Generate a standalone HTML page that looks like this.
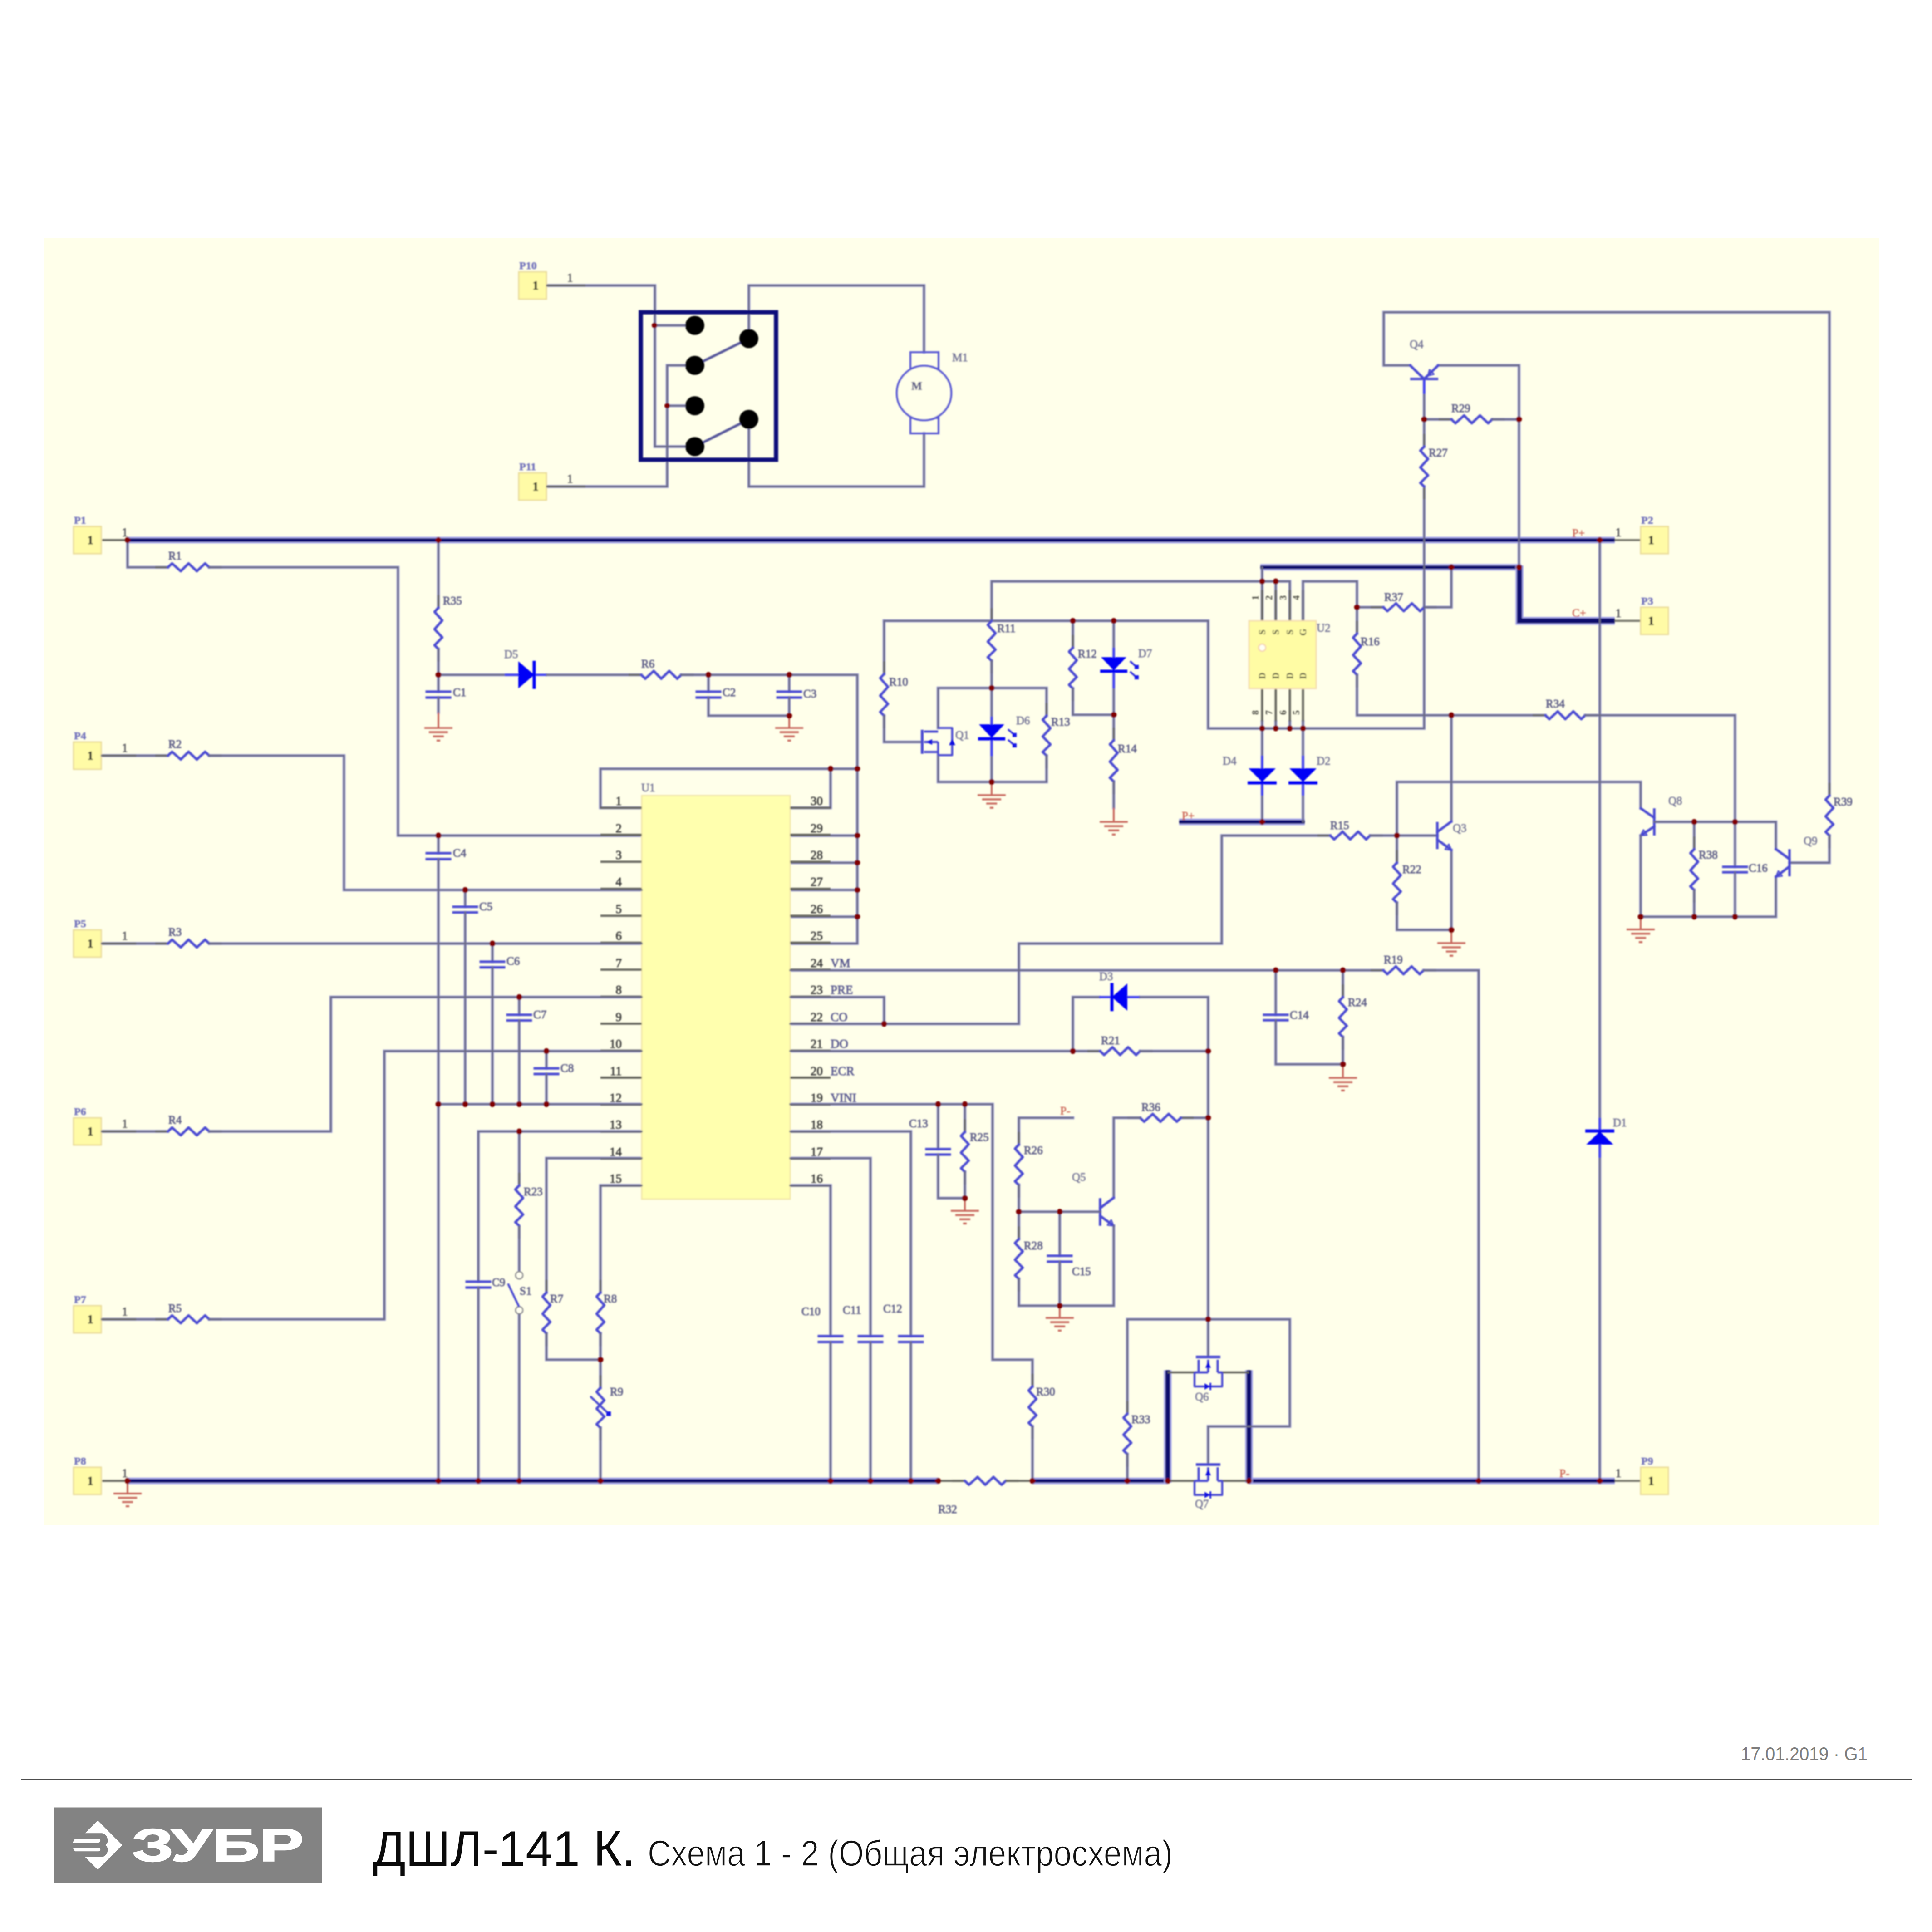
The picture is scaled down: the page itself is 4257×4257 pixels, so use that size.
<!DOCTYPE html>
<html lang="ru"><head><meta charset="utf-8"><title>ДШЛ-141 К. Схема 1 - 2 (Общая электросхема)</title>
<style>
html,body{margin:0;padding:0;background:#fff}
body{width:4257px;height:4257px;position:relative;overflow:hidden}
</style></head><body>
<svg width="4257" height="4257" viewBox="0 0 4257 4257" style="position:absolute;left:0;top:0">
<defs><filter id="soft" x="0" y="0" width="4257" height="4257" filterUnits="userSpaceOnUse"><feGaussianBlur stdDeviation="1.8"/></filter></defs>
<rect x="98" y="525" width="4042" height="2835" fill="#ffffea"/>
<g filter="url(#soft)">
<polyline points="281,1190 281,1250 370,1250" fill="none" stroke="#a2a2dc" stroke-width="6.6" stroke-linecap="square" stroke-linejoin="miter"/>
<polyline points="461,1250 877,1250 877,1841 1414,1841" fill="none" stroke="#a2a2dc" stroke-width="6.6" stroke-linecap="square" stroke-linejoin="miter"/>
<polyline points="966,1190 966,1339" fill="none" stroke="#a2a2dc" stroke-width="6.6" stroke-linecap="square" stroke-linejoin="miter"/>
<polyline points="966,1430 966,1524" fill="none" stroke="#a2a2dc" stroke-width="6.6" stroke-linecap="square" stroke-linejoin="miter"/>
<polyline points="966,1487 1142,1487" fill="none" stroke="#a2a2dc" stroke-width="6.6" stroke-linecap="square" stroke-linejoin="miter"/>
<polyline points="1205,1487 1413,1487" fill="none" stroke="#a2a2dc" stroke-width="6.6" stroke-linecap="square" stroke-linejoin="miter"/>
<polyline points="1501,1487 1889,1487 1889,2079 1741,2079" fill="none" stroke="#a2a2dc" stroke-width="6.6" stroke-linecap="square" stroke-linejoin="miter"/>
<polyline points="966,1537 966,1570" fill="none" stroke="#a2a2dc" stroke-width="6.6" stroke-linecap="square" stroke-linejoin="miter"/>
<polyline points="1561,1487 1561,1524" fill="none" stroke="#a2a2dc" stroke-width="6.6" stroke-linecap="square" stroke-linejoin="miter"/>
<polyline points="1561,1537 1561,1577 1739,1577" fill="none" stroke="#a2a2dc" stroke-width="6.6" stroke-linecap="square" stroke-linejoin="miter"/>
<polyline points="1739,1487 1739,1524" fill="none" stroke="#a2a2dc" stroke-width="6.6" stroke-linecap="square" stroke-linejoin="miter"/>
<polyline points="1739,1537 1739,1577" fill="none" stroke="#a2a2dc" stroke-width="6.6" stroke-linecap="square" stroke-linejoin="miter"/>
<polyline points="1414,1780 1323,1780 1323,1694 1889,1694" fill="none" stroke="#a2a2dc" stroke-width="6.6" stroke-linecap="square" stroke-linejoin="miter"/>
<polyline points="1741,1780 1830,1780 1830,1694" fill="none" stroke="#a2a2dc" stroke-width="6.6" stroke-linecap="square" stroke-linejoin="miter"/>
<polyline points="1741,1841 1889,1841" fill="none" stroke="#a2a2dc" stroke-width="6.6" stroke-linecap="square" stroke-linejoin="miter"/>
<polyline points="1741,1901 1889,1901" fill="none" stroke="#a2a2dc" stroke-width="6.6" stroke-linecap="square" stroke-linejoin="miter"/>
<polyline points="1741,1961 1889,1961" fill="none" stroke="#a2a2dc" stroke-width="6.6" stroke-linecap="square" stroke-linejoin="miter"/>
<polyline points="1741,2020 1889,2020" fill="none" stroke="#a2a2dc" stroke-width="6.6" stroke-linecap="square" stroke-linejoin="miter"/>
<polyline points="224,1665 370,1665" fill="none" stroke="#a2a2dc" stroke-width="6.6" stroke-linecap="square" stroke-linejoin="miter"/>
<polyline points="461,1665 758,1665 758,1961 1414,1961" fill="none" stroke="#a2a2dc" stroke-width="6.6" stroke-linecap="square" stroke-linejoin="miter"/>
<polyline points="224,2079 370,2079" fill="none" stroke="#a2a2dc" stroke-width="6.6" stroke-linecap="square" stroke-linejoin="miter"/>
<polyline points="461,2079 1414,2079" fill="none" stroke="#a2a2dc" stroke-width="6.6" stroke-linecap="square" stroke-linejoin="miter"/>
<polyline points="224,2493 370,2493" fill="none" stroke="#a2a2dc" stroke-width="6.6" stroke-linecap="square" stroke-linejoin="miter"/>
<polyline points="461,2493 729,2493 729,2197 1414,2197" fill="none" stroke="#a2a2dc" stroke-width="6.6" stroke-linecap="square" stroke-linejoin="miter"/>
<polyline points="224,2907 370,2907" fill="none" stroke="#a2a2dc" stroke-width="6.6" stroke-linecap="square" stroke-linejoin="miter"/>
<polyline points="461,2907 847,2907 847,2316 1414,2316" fill="none" stroke="#a2a2dc" stroke-width="6.6" stroke-linecap="square" stroke-linejoin="miter"/>
<polyline points="966,1841 966,1880" fill="none" stroke="#a2a2dc" stroke-width="6.6" stroke-linecap="square" stroke-linejoin="miter"/>
<polyline points="966,1893 966,3263" fill="none" stroke="#a2a2dc" stroke-width="6.6" stroke-linecap="square" stroke-linejoin="miter"/>
<polyline points="1025,1961 1025,1998" fill="none" stroke="#a2a2dc" stroke-width="6.6" stroke-linecap="square" stroke-linejoin="miter"/>
<polyline points="1025,2010.5 1025,2433" fill="none" stroke="#a2a2dc" stroke-width="6.6" stroke-linecap="square" stroke-linejoin="miter"/>
<polyline points="1085,2079 1085,2119" fill="none" stroke="#a2a2dc" stroke-width="6.6" stroke-linecap="square" stroke-linejoin="miter"/>
<polyline points="1085,2131.5 1085,2433" fill="none" stroke="#a2a2dc" stroke-width="6.6" stroke-linecap="square" stroke-linejoin="miter"/>
<polyline points="1144,2197 1144,2236" fill="none" stroke="#a2a2dc" stroke-width="6.6" stroke-linecap="square" stroke-linejoin="miter"/>
<polyline points="1144,2248.5 1144,2433" fill="none" stroke="#a2a2dc" stroke-width="6.6" stroke-linecap="square" stroke-linejoin="miter"/>
<polyline points="1204,2316 1204,2354" fill="none" stroke="#a2a2dc" stroke-width="6.6" stroke-linecap="square" stroke-linejoin="miter"/>
<polyline points="1204,2366.5 1204,2433" fill="none" stroke="#a2a2dc" stroke-width="6.6" stroke-linecap="square" stroke-linejoin="miter"/>
<polyline points="966,2433 1414,2433" fill="none" stroke="#a2a2dc" stroke-width="6.6" stroke-linecap="square" stroke-linejoin="miter"/>
<polyline points="1414,2493 1054,2493 1054,2824" fill="none" stroke="#a2a2dc" stroke-width="6.6" stroke-linecap="square" stroke-linejoin="miter"/>
<polyline points="1054,2837 1054,3263" fill="none" stroke="#a2a2dc" stroke-width="6.6" stroke-linecap="square" stroke-linejoin="miter"/>
<polyline points="1144,2493 1144,2612" fill="none" stroke="#a2a2dc" stroke-width="6.6" stroke-linecap="square" stroke-linejoin="miter"/>
<polyline points="1144,2701 1144,2801" fill="none" stroke="#a2a2dc" stroke-width="6.6" stroke-linecap="butt" stroke-linejoin="miter"/>
<polyline points="1144,2896 1144,3263" fill="none" stroke="#a2a2dc" stroke-width="6.6" stroke-linecap="butt" stroke-linejoin="miter"/>
<polyline points="1414,2552 1204,2552 1204,2848" fill="none" stroke="#a2a2dc" stroke-width="6.6" stroke-linecap="square" stroke-linejoin="miter"/>
<polyline points="1204,2938 1204,2996 1323,2996" fill="none" stroke="#a2a2dc" stroke-width="6.6" stroke-linecap="square" stroke-linejoin="miter"/>
<polyline points="1414,2612 1323,2612 1323,2848" fill="none" stroke="#a2a2dc" stroke-width="6.6" stroke-linecap="square" stroke-linejoin="miter"/>
<polyline points="1323,2938 1323,3058" fill="none" stroke="#a2a2dc" stroke-width="6.6" stroke-linecap="square" stroke-linejoin="miter"/>
<polyline points="1323,3146 1323,3263" fill="none" stroke="#a2a2dc" stroke-width="6.6" stroke-linecap="square" stroke-linejoin="miter"/>
<polyline points="1741,2612 1830,2612 1830,2944" fill="none" stroke="#a2a2dc" stroke-width="6.6" stroke-linecap="square" stroke-linejoin="miter"/>
<polyline points="1830,2957 1830,3263" fill="none" stroke="#a2a2dc" stroke-width="6.6" stroke-linecap="square" stroke-linejoin="miter"/>
<polyline points="1741,2552 1918,2552 1918,2944" fill="none" stroke="#a2a2dc" stroke-width="6.6" stroke-linecap="square" stroke-linejoin="miter"/>
<polyline points="1918,2957 1918,3263" fill="none" stroke="#a2a2dc" stroke-width="6.6" stroke-linecap="square" stroke-linejoin="miter"/>
<polyline points="1741,2493 2007,2493 2007,2944" fill="none" stroke="#a2a2dc" stroke-width="6.6" stroke-linecap="square" stroke-linejoin="miter"/>
<polyline points="2007,2957 2007,3263" fill="none" stroke="#a2a2dc" stroke-width="6.6" stroke-linecap="square" stroke-linejoin="miter"/>
<polyline points="1741,2433 2187,2433 2187,2996 2275,2996 2275,3055" fill="none" stroke="#a2a2dc" stroke-width="6.6" stroke-linecap="square" stroke-linejoin="miter"/>
<polyline points="2275,3143 2275,3263" fill="none" stroke="#a2a2dc" stroke-width="6.6" stroke-linecap="square" stroke-linejoin="miter"/>
<polyline points="2067,2433 2067,2532" fill="none" stroke="#a2a2dc" stroke-width="6.6" stroke-linecap="square" stroke-linejoin="miter"/>
<polyline points="2067,2544 2067,2640 2126,2640" fill="none" stroke="#a2a2dc" stroke-width="6.6" stroke-linecap="square" stroke-linejoin="miter"/>
<polyline points="2126,2433 2126,2494" fill="none" stroke="#a2a2dc" stroke-width="6.6" stroke-linecap="square" stroke-linejoin="miter"/>
<polyline points="2126,2582 2126,2640" fill="none" stroke="#a2a2dc" stroke-width="6.6" stroke-linecap="square" stroke-linejoin="miter"/>
<polyline points="1741,2138 3048,2138" fill="none" stroke="#a2a2dc" stroke-width="6.6" stroke-linecap="square" stroke-linejoin="miter"/>
<polyline points="3137,2138 3258,2138 3258,3263" fill="none" stroke="#a2a2dc" stroke-width="6.6" stroke-linecap="square" stroke-linejoin="miter"/>
<polyline points="2811,2138 2811,2236" fill="none" stroke="#a2a2dc" stroke-width="6.6" stroke-linecap="square" stroke-linejoin="miter"/>
<polyline points="2811,2248 2811,2345 2959,2345" fill="none" stroke="#a2a2dc" stroke-width="6.6" stroke-linecap="square" stroke-linejoin="miter"/>
<polyline points="2959,2138 2959,2197" fill="none" stroke="#a2a2dc" stroke-width="6.6" stroke-linecap="square" stroke-linejoin="miter"/>
<polyline points="2959,2285 2959,2345" fill="none" stroke="#a2a2dc" stroke-width="6.6" stroke-linecap="square" stroke-linejoin="miter"/>
<polyline points="1741,2197 1948,2197 1948,2256" fill="none" stroke="#a2a2dc" stroke-width="6.6" stroke-linecap="square" stroke-linejoin="miter"/>
<polyline points="1741,2256 2245,2256 2245,2079 2692,2079 2692,1841 2931,1841" fill="none" stroke="#a2a2dc" stroke-width="6.6" stroke-linecap="square" stroke-linejoin="miter"/>
<polyline points="3019,1841 3167,1841" fill="none" stroke="#a2a2dc" stroke-width="6.6" stroke-linecap="square" stroke-linejoin="miter"/>
<polyline points="1741,2316 2424,2316" fill="none" stroke="#a2a2dc" stroke-width="6.6" stroke-linecap="square" stroke-linejoin="miter"/>
<polyline points="2512,2316 2662,2316" fill="none" stroke="#a2a2dc" stroke-width="6.6" stroke-linecap="square" stroke-linejoin="miter"/>
<polyline points="2364,2316 2364,2197 2422,2197" fill="none" stroke="#a2a2dc" stroke-width="6.6" stroke-linecap="square" stroke-linejoin="miter"/>
<polyline points="2512,2197 2662,2197 2662,2989" fill="none" stroke="#a2a2dc" stroke-width="6.6" stroke-linecap="square" stroke-linejoin="miter"/>
<polyline points="2662,2463 2602,2463" fill="none" stroke="#a2a2dc" stroke-width="6.6" stroke-linecap="square" stroke-linejoin="miter"/>
<polyline points="2512,2463 2454,2463 2454,2639" fill="none" stroke="#a2a2dc" stroke-width="6.6" stroke-linecap="square" stroke-linejoin="miter"/>
<polyline points="2245,2670 2424,2670" fill="none" stroke="#a2a2dc" stroke-width="6.6" stroke-linecap="square" stroke-linejoin="miter"/>
<polyline points="2454,2701 2454,2877 2245,2877" fill="none" stroke="#a2a2dc" stroke-width="6.6" stroke-linecap="square" stroke-linejoin="miter"/>
<polyline points="2364,2463 2245,2463 2245,2522" fill="none" stroke="#a2a2dc" stroke-width="6.6" stroke-linecap="square" stroke-linejoin="miter"/>
<polyline points="2245,2611 2245,2730" fill="none" stroke="#a2a2dc" stroke-width="6.6" stroke-linecap="square" stroke-linejoin="miter"/>
<polyline points="2245,2818 2245,2877" fill="none" stroke="#a2a2dc" stroke-width="6.6" stroke-linecap="square" stroke-linejoin="miter"/>
<polyline points="2335,2670 2335,2767" fill="none" stroke="#a2a2dc" stroke-width="6.6" stroke-linecap="square" stroke-linejoin="miter"/>
<polyline points="2335,2780 2335,2877" fill="none" stroke="#a2a2dc" stroke-width="6.6" stroke-linecap="square" stroke-linejoin="miter"/>
<polyline points="2662,2907 2484,2907 2484,3115" fill="none" stroke="#a2a2dc" stroke-width="6.6" stroke-linecap="square" stroke-linejoin="miter"/>
<polyline points="2484,3204 2484,3263" fill="none" stroke="#a2a2dc" stroke-width="6.6" stroke-linecap="square" stroke-linejoin="miter"/>
<polyline points="2662,2907 2842,2907 2842,3143 2662,3143 2662,3226" fill="none" stroke="#a2a2dc" stroke-width="6.6" stroke-linecap="square" stroke-linejoin="miter"/>
<polyline points="1948,1368 1948,1485" fill="none" stroke="#a2a2dc" stroke-width="6.6" stroke-linecap="square" stroke-linejoin="miter"/>
<polyline points="1948,1577 1948,1635 2032,1635" fill="none" stroke="#a2a2dc" stroke-width="6.6" stroke-linecap="square" stroke-linejoin="miter"/>
<polyline points="1948,1368 2662,1368 2662,1605 3138,1605 3138,1072" fill="none" stroke="#a2a2dc" stroke-width="6.6" stroke-linecap="square" stroke-linejoin="miter"/>
<polyline points="2842,1368 2842,1281 2185,1281 2185,1368" fill="none" stroke="#a2a2dc" stroke-width="6.6" stroke-linecap="square" stroke-linejoin="miter"/>
<polyline points="2185,1456 2185,1723" fill="none" stroke="#a2a2dc" stroke-width="6.6" stroke-linecap="square" stroke-linejoin="miter"/>
<polyline points="2781,1250 2781,1368" fill="none" stroke="#a2a2dc" stroke-width="6.6" stroke-linecap="square" stroke-linejoin="miter"/>
<polyline points="2811,1281 2811,1368" fill="none" stroke="#a2a2dc" stroke-width="6.6" stroke-linecap="square" stroke-linejoin="miter"/>
<polyline points="2067,1604 2067,1516 2306,1516 2306,1577" fill="none" stroke="#a2a2dc" stroke-width="6.6" stroke-linecap="square" stroke-linejoin="miter"/>
<polyline points="2306,1665 2306,1723 2067,1723 2067,1664" fill="none" stroke="#a2a2dc" stroke-width="6.6" stroke-linecap="square" stroke-linejoin="miter"/>
<polyline points="2364,1368 2364,1427" fill="none" stroke="#a2a2dc" stroke-width="6.6" stroke-linecap="square" stroke-linejoin="miter"/>
<polyline points="2364,1517 2364,1575 2454,1575" fill="none" stroke="#a2a2dc" stroke-width="6.6" stroke-linecap="square" stroke-linejoin="miter"/>
<polyline points="2454,1368 2454,1631" fill="none" stroke="#a2a2dc" stroke-width="6.6" stroke-linecap="square" stroke-linejoin="miter"/>
<polyline points="2454,1722 2454,1780" fill="none" stroke="#a2a2dc" stroke-width="6.6" stroke-linecap="square" stroke-linejoin="miter"/>
<polyline points="2781,1590 2781,1605" fill="none" stroke="#a2a2dc" stroke-width="6.6" stroke-linecap="square" stroke-linejoin="miter"/>
<polyline points="2811,1590 2811,1605" fill="none" stroke="#a2a2dc" stroke-width="6.6" stroke-linecap="square" stroke-linejoin="miter"/>
<polyline points="2842,1590 2842,1605" fill="none" stroke="#a2a2dc" stroke-width="6.6" stroke-linecap="square" stroke-linejoin="miter"/>
<polyline points="2871,1590 2871,1605" fill="none" stroke="#a2a2dc" stroke-width="6.6" stroke-linecap="square" stroke-linejoin="miter"/>
<polyline points="2871,1368 2871,1281 2990,1281 2990,1396" fill="none" stroke="#a2a2dc" stroke-width="6.6" stroke-linecap="square" stroke-linejoin="miter"/>
<polyline points="2990,1487 2990,1576 3405,1576" fill="none" stroke="#a2a2dc" stroke-width="6.6" stroke-linecap="square" stroke-linejoin="miter"/>
<polyline points="3493,1576 3823,1576 3823,1811" fill="none" stroke="#a2a2dc" stroke-width="6.6" stroke-linecap="square" stroke-linejoin="miter"/>
<polyline points="2990,1338 3048,1338" fill="none" stroke="#a2a2dc" stroke-width="6.6" stroke-linecap="square" stroke-linejoin="miter"/>
<polyline points="3138,1338 3198,1338 3198,1250" fill="none" stroke="#a2a2dc" stroke-width="6.6" stroke-linecap="square" stroke-linejoin="miter"/>
<polyline points="2781,1605 2781,1811" fill="none" stroke="#a2a2dc" stroke-width="6.6" stroke-linecap="square" stroke-linejoin="miter"/>
<polyline points="2871,1605 2871,1811" fill="none" stroke="#a2a2dc" stroke-width="6.6" stroke-linecap="square" stroke-linejoin="miter"/>
<polyline points="3138,835 3138,984" fill="none" stroke="#a2a2dc" stroke-width="6.6" stroke-linecap="square" stroke-linejoin="miter"/>
<polyline points="3138,924 3198,924" fill="none" stroke="#a2a2dc" stroke-width="6.6" stroke-linecap="square" stroke-linejoin="miter"/>
<polyline points="3288,924 3347,924" fill="none" stroke="#a2a2dc" stroke-width="6.6" stroke-linecap="square" stroke-linejoin="miter"/>
<polyline points="3169,805 3347,805 3347,1250" fill="none" stroke="#a2a2dc" stroke-width="6.6" stroke-linecap="square" stroke-linejoin="miter"/>
<polyline points="3107,805 3049,805 3049,688 4031,688 4031,1753" fill="none" stroke="#a2a2dc" stroke-width="6.6" stroke-linecap="square" stroke-linejoin="miter"/>
<polyline points="4031,1841 4031,1901 3943,1901" fill="none" stroke="#a2a2dc" stroke-width="6.6" stroke-linecap="square" stroke-linejoin="miter"/>
<polyline points="3525,1190 3525,3263" fill="none" stroke="#a2a2dc" stroke-width="6.6" stroke-linecap="square" stroke-linejoin="miter"/>
<polyline points="3078,1841 3078,1723 3615,1723 3615,1781" fill="none" stroke="#a2a2dc" stroke-width="6.6" stroke-linecap="square" stroke-linejoin="miter"/>
<polyline points="3078,1841 3078,1901" fill="none" stroke="#a2a2dc" stroke-width="6.6" stroke-linecap="square" stroke-linejoin="miter"/>
<polyline points="3078,1989 3078,2049 3198,2049" fill="none" stroke="#a2a2dc" stroke-width="6.6" stroke-linecap="square" stroke-linejoin="miter"/>
<polyline points="3198,1576 3198,1810" fill="none" stroke="#a2a2dc" stroke-width="6.6" stroke-linecap="square" stroke-linejoin="miter"/>
<polyline points="3198,1873 3198,2049" fill="none" stroke="#a2a2dc" stroke-width="6.6" stroke-linecap="square" stroke-linejoin="miter"/>
<polyline points="3645,1811 3913,1811 3913,1871" fill="none" stroke="#a2a2dc" stroke-width="6.6" stroke-linecap="square" stroke-linejoin="miter"/>
<polyline points="3615,1841 3615,2020 3913,2020 3913,1932" fill="none" stroke="#a2a2dc" stroke-width="6.6" stroke-linecap="square" stroke-linejoin="miter"/>
<polyline points="3733,1811 3733,1871" fill="none" stroke="#a2a2dc" stroke-width="6.6" stroke-linecap="square" stroke-linejoin="miter"/>
<polyline points="3733,1961 3733,2020" fill="none" stroke="#a2a2dc" stroke-width="6.6" stroke-linecap="square" stroke-linejoin="miter"/>
<polyline points="3823,1811 3823,1910" fill="none" stroke="#a2a2dc" stroke-width="6.6" stroke-linecap="square" stroke-linejoin="miter"/>
<polyline points="3823,1922 3823,2020" fill="none" stroke="#a2a2dc" stroke-width="6.6" stroke-linecap="square" stroke-linejoin="miter"/>
<polyline points="1205,629 1443,629 1443,984 1512,984" fill="none" stroke="#a2a2dc" stroke-width="6.6" stroke-linecap="square" stroke-linejoin="miter"/>
<polyline points="1205,1072 1470,1072 1470,805 1512,805" fill="none" stroke="#a2a2dc" stroke-width="6.6" stroke-linecap="square" stroke-linejoin="miter"/>
<polyline points="1443,717 1512,717" fill="none" stroke="#a2a2dc" stroke-width="6.6" stroke-linecap="square" stroke-linejoin="miter"/>
<polyline points="1470,894 1512,894" fill="none" stroke="#a2a2dc" stroke-width="6.6" stroke-linecap="square" stroke-linejoin="miter"/>
<polyline points="1650,746 1650,629 2036,629 2036,776" fill="none" stroke="#a2a2dc" stroke-width="6.6" stroke-linecap="square" stroke-linejoin="miter"/>
<polyline points="1650,924 1650,1072 2036,1072 2036,955" fill="none" stroke="#a2a2dc" stroke-width="6.6" stroke-linecap="square" stroke-linejoin="miter"/>
<polyline points="281,1190 3558,1190" fill="none" stroke="#a4a4ec" stroke-width="14.5" stroke-linecap="butt" stroke-linejoin="miter"/>
<polyline points="281,1190 3558,1190" fill="none" stroke="#0a0a6c" stroke-width="8" stroke-linecap="butt" stroke-linejoin="miter"/>
<polyline points="2777,1250 3352,1250" fill="none" stroke="#a4a4ec" stroke-width="14.5" stroke-linecap="butt" stroke-linejoin="miter"/>
<polyline points="2777,1250 3352,1250" fill="none" stroke="#0a0a6c" stroke-width="8" stroke-linecap="butt" stroke-linejoin="miter"/>
<polyline points="3348,1246 3348,1368 3558,1368" fill="none" stroke="#a4a4ec" stroke-width="17.5" stroke-linecap="butt" stroke-linejoin="miter"/>
<polyline points="3348,1246 3348,1368 3558,1368" fill="none" stroke="#0a0a6c" stroke-width="11" stroke-linecap="butt" stroke-linejoin="miter"/>
<polyline points="2598,1811 2875,1811" fill="none" stroke="#a4a4ec" stroke-width="14.5" stroke-linecap="butt" stroke-linejoin="miter"/>
<polyline points="2598,1811 2875,1811" fill="none" stroke="#0a0a6c" stroke-width="8" stroke-linecap="butt" stroke-linejoin="miter"/>
<polyline points="281,3263 2067,3263" fill="none" stroke="#a4a4ec" stroke-width="14.5" stroke-linecap="butt" stroke-linejoin="miter"/>
<polyline points="281,3263 2067,3263" fill="none" stroke="#0a0a6c" stroke-width="8" stroke-linecap="butt" stroke-linejoin="miter"/>
<polyline points="2275,3263 2573,3263" fill="none" stroke="#a4a4ec" stroke-width="14.5" stroke-linecap="butt" stroke-linejoin="miter"/>
<polyline points="2275,3263 2573,3263" fill="none" stroke="#0a0a6c" stroke-width="8" stroke-linecap="butt" stroke-linejoin="miter"/>
<polyline points="2752,3263 3558,3263" fill="none" stroke="#a4a4ec" stroke-width="14.5" stroke-linecap="butt" stroke-linejoin="miter"/>
<polyline points="2752,3263 3558,3263" fill="none" stroke="#0a0a6c" stroke-width="8" stroke-linecap="butt" stroke-linejoin="miter"/>
<polyline points="2573,3019 2573,3267" fill="none" stroke="#a4a4ec" stroke-width="17" stroke-linecap="butt" stroke-linejoin="miter"/>
<polyline points="2573,3019 2573,3267" fill="none" stroke="#0a0a6c" stroke-width="10.5" stroke-linecap="butt" stroke-linejoin="miter"/>
<polyline points="2752,3019 2752,3267" fill="none" stroke="#a4a4ec" stroke-width="17" stroke-linecap="butt" stroke-linejoin="miter"/>
<polyline points="2752,3019 2752,3267" fill="none" stroke="#0a0a6c" stroke-width="10.5" stroke-linecap="butt" stroke-linejoin="miter"/>
<rect x="162" y="1160" width="61" height="60" fill="#fffba6" stroke="#eadb9a" stroke-width="3"/>
<rect x="162" y="1635" width="61" height="60" fill="#fffba6" stroke="#eadb9a" stroke-width="3"/>
<rect x="162" y="2049" width="61" height="60" fill="#fffba6" stroke="#eadb9a" stroke-width="3"/>
<rect x="162" y="2463" width="61" height="60" fill="#fffba6" stroke="#eadb9a" stroke-width="3"/>
<rect x="162" y="2877" width="61" height="60" fill="#fffba6" stroke="#eadb9a" stroke-width="3"/>
<rect x="162" y="3233" width="61" height="60" fill="#fffba6" stroke="#eadb9a" stroke-width="3"/>
<rect x="3615" y="1160" width="61" height="60" fill="#fffba6" stroke="#eadb9a" stroke-width="3"/>
<polyline points="3558,1190 3614,1190" fill="none" stroke="#77776c" stroke-width="4.5" stroke-linecap="butt" stroke-linejoin="miter"/>
<rect x="3615" y="1338" width="61" height="60" fill="#fffba6" stroke="#eadb9a" stroke-width="3"/>
<polyline points="3558,1368 3614,1368" fill="none" stroke="#77776c" stroke-width="4.5" stroke-linecap="butt" stroke-linejoin="miter"/>
<rect x="3615" y="3233" width="61" height="60" fill="#fffba6" stroke="#eadb9a" stroke-width="3"/>
<polyline points="3558,3263 3614,3263" fill="none" stroke="#77776c" stroke-width="4.5" stroke-linecap="butt" stroke-linejoin="miter"/>
<rect x="1143" y="599" width="61" height="60" fill="#fffba6" stroke="#eadb9a" stroke-width="3"/>
<rect x="1143" y="1042" width="61" height="60" fill="#fffba6" stroke="#eadb9a" stroke-width="3"/>
<polyline points="225,1190 281,1190" fill="none" stroke="#66665e" stroke-width="4.5" stroke-linecap="butt" stroke-linejoin="miter"/>
<polyline points="225,3263 281,3263" fill="none" stroke="#66665e" stroke-width="4.5" stroke-linecap="butt" stroke-linejoin="miter"/>
<polyline points="281,1190 281,1250 370,1250" fill="none" stroke="#6a6a84" stroke-width="3.9" stroke-linecap="square" stroke-linejoin="miter"/>
<polyline points="342,1250 370,1250" fill="none" stroke="#66665e" stroke-width="4.5" stroke-linecap="butt" stroke-linejoin="miter"/>
<polyline points="461,1250 489,1250" fill="none" stroke="#66665e" stroke-width="4.5" stroke-linecap="butt" stroke-linejoin="miter"/>
<polyline points="370,1250 379.1,1241.5 398.2,1258.5 415.5,1241.5 433.7,1258.5 451.9,1241.5 461,1250" fill="none" stroke="#4a4ad2" stroke-width="5.5" stroke-linecap="round" stroke-linejoin="round"/>
<polyline points="461,1250 877,1250 877,1841 1414,1841" fill="none" stroke="#6a6a84" stroke-width="3.9" stroke-linecap="square" stroke-linejoin="miter"/>
<polyline points="966,1190 966,1339" fill="none" stroke="#6a6a84" stroke-width="3.9" stroke-linecap="square" stroke-linejoin="miter"/>
<polyline points="966,1311 966,1339" fill="none" stroke="#66665e" stroke-width="4.5" stroke-linecap="butt" stroke-linejoin="miter"/>
<polyline points="966,1430 966,1458" fill="none" stroke="#66665e" stroke-width="4.5" stroke-linecap="butt" stroke-linejoin="miter"/>
<polyline points="966,1339 957.5,1348.1 974.5,1367.2 957.5,1386.3 974.5,1404.5 957.5,1421.8 966,1430" fill="none" stroke="#4a4ad2" stroke-width="5.5" stroke-linecap="round" stroke-linejoin="round"/>
<polyline points="966,1430 966,1524" fill="none" stroke="#6a6a84" stroke-width="3.9" stroke-linecap="square" stroke-linejoin="miter"/>
<polyline points="966,1487 1142,1487" fill="none" stroke="#6a6a84" stroke-width="3.9" stroke-linecap="square" stroke-linejoin="miter"/>
<polyline points="1112,1487 1205,1487" fill="none" stroke="#3c3cf0" stroke-width="5" stroke-linecap="butt" stroke-linejoin="miter"/>
<polygon points="1142,1457 1142,1517 1177,1487" fill="#0000f6"/>
<polyline points="1177,1456 1177,1518" fill="none" stroke="#0000f6" stroke-width="7" stroke-linecap="butt" stroke-linejoin="miter"/>
<polyline points="1205,1487 1413,1487" fill="none" stroke="#6a6a84" stroke-width="3.9" stroke-linecap="square" stroke-linejoin="miter"/>
<polyline points="1385,1487 1413,1487" fill="none" stroke="#66665e" stroke-width="4.5" stroke-linecap="butt" stroke-linejoin="miter"/>
<polyline points="1501,1487 1529,1487" fill="none" stroke="#66665e" stroke-width="4.5" stroke-linecap="butt" stroke-linejoin="miter"/>
<polyline points="1413,1487 1421.8,1495.5 1440.3,1478.5 1457,1495.5 1474.6,1478.5 1492.2,1495.5 1501,1487" fill="none" stroke="#4a4ad2" stroke-width="5.5" stroke-linecap="round" stroke-linejoin="round"/>
<polyline points="1501,1487 1889,1487 1889,2079 1741,2079" fill="none" stroke="#6a6a84" stroke-width="3.9" stroke-linecap="square" stroke-linejoin="miter"/>
<polyline points="937.5,1524 994.5,1524" fill="none" stroke="#4a4ad2" stroke-width="5.5" stroke-linecap="butt" stroke-linejoin="round"/>
<polyline points="937.5,1537 994.5,1537" fill="none" stroke="#4a4ad2" stroke-width="5.5" stroke-linecap="butt" stroke-linejoin="round"/>
<polyline points="966,1537 966,1570" fill="none" stroke="#6a6a84" stroke-width="3.9" stroke-linecap="square" stroke-linejoin="miter"/>
<polyline points="966,1570 966,1604" fill="none" stroke="#c8665c" stroke-width="4" stroke-linecap="butt" stroke-linejoin="miter"/>
<polyline points="935,1604 997,1604" fill="none" stroke="#c8665c" stroke-width="4.2" stroke-linecap="butt" stroke-linejoin="miter"/>
<polyline points="945,1613.3 987,1613.3" fill="none" stroke="#c8665c" stroke-width="4.2" stroke-linecap="butt" stroke-linejoin="miter"/>
<polyline points="954,1622.6 978,1622.6" fill="none" stroke="#c8665c" stroke-width="4.2" stroke-linecap="butt" stroke-linejoin="miter"/>
<polyline points="962,1631.9 970,1631.9" fill="none" stroke="#c8665c" stroke-width="4.2" stroke-linecap="butt" stroke-linejoin="miter"/>
<polyline points="1561,1487 1561,1524" fill="none" stroke="#6a6a84" stroke-width="3.9" stroke-linecap="square" stroke-linejoin="miter"/>
<polyline points="1532.5,1524 1589.5,1524" fill="none" stroke="#4a4ad2" stroke-width="5.5" stroke-linecap="butt" stroke-linejoin="round"/>
<polyline points="1532.5,1537 1589.5,1537" fill="none" stroke="#4a4ad2" stroke-width="5.5" stroke-linecap="butt" stroke-linejoin="round"/>
<polyline points="1561,1537 1561,1577 1739,1577" fill="none" stroke="#6a6a84" stroke-width="3.9" stroke-linecap="square" stroke-linejoin="miter"/>
<polyline points="1739,1487 1739,1524" fill="none" stroke="#6a6a84" stroke-width="3.9" stroke-linecap="square" stroke-linejoin="miter"/>
<polyline points="1710.5,1524 1767.5,1524" fill="none" stroke="#4a4ad2" stroke-width="5.5" stroke-linecap="butt" stroke-linejoin="round"/>
<polyline points="1710.5,1537 1767.5,1537" fill="none" stroke="#4a4ad2" stroke-width="5.5" stroke-linecap="butt" stroke-linejoin="round"/>
<polyline points="1739,1537 1739,1577" fill="none" stroke="#6a6a84" stroke-width="3.9" stroke-linecap="square" stroke-linejoin="miter"/>
<polyline points="1739,1577 1739,1604" fill="none" stroke="#c8665c" stroke-width="4" stroke-linecap="butt" stroke-linejoin="miter"/>
<polyline points="1708,1604 1770,1604" fill="none" stroke="#c8665c" stroke-width="4.2" stroke-linecap="butt" stroke-linejoin="miter"/>
<polyline points="1718,1613.3 1760,1613.3" fill="none" stroke="#c8665c" stroke-width="4.2" stroke-linecap="butt" stroke-linejoin="miter"/>
<polyline points="1727,1622.6 1751,1622.6" fill="none" stroke="#c8665c" stroke-width="4.2" stroke-linecap="butt" stroke-linejoin="miter"/>
<polyline points="1735,1631.9 1743,1631.9" fill="none" stroke="#c8665c" stroke-width="4.2" stroke-linecap="butt" stroke-linejoin="miter"/>
<polyline points="1414,1780 1323,1780 1323,1694 1889,1694" fill="none" stroke="#6a6a84" stroke-width="3.9" stroke-linecap="square" stroke-linejoin="miter"/>
<polyline points="1741,1780 1830,1780 1830,1694" fill="none" stroke="#6a6a84" stroke-width="3.9" stroke-linecap="square" stroke-linejoin="miter"/>
<polyline points="1741,1841 1889,1841" fill="none" stroke="#6a6a84" stroke-width="3.9" stroke-linecap="square" stroke-linejoin="miter"/>
<polyline points="1741,1901 1889,1901" fill="none" stroke="#6a6a84" stroke-width="3.9" stroke-linecap="square" stroke-linejoin="miter"/>
<polyline points="1741,1961 1889,1961" fill="none" stroke="#6a6a84" stroke-width="3.9" stroke-linecap="square" stroke-linejoin="miter"/>
<polyline points="1741,2020 1889,2020" fill="none" stroke="#6a6a84" stroke-width="3.9" stroke-linecap="square" stroke-linejoin="miter"/>
<rect x="1414" y="1753" width="327" height="889" fill="#ffffae" stroke="#f2e6a8" stroke-width="3"/>
<polyline points="1323,1780 1414,1780" fill="none" stroke="#66665e" stroke-width="4.8" stroke-linecap="butt" stroke-linejoin="miter"/>
<polyline points="1741,1780 1830,1780" fill="none" stroke="#66665e" stroke-width="4.8" stroke-linecap="butt" stroke-linejoin="miter"/>
<polyline points="1323,1839.5 1414,1839.5" fill="none" stroke="#66665e" stroke-width="4.8" stroke-linecap="butt" stroke-linejoin="miter"/>
<polyline points="1741,1839.5 1830,1839.5" fill="none" stroke="#66665e" stroke-width="4.8" stroke-linecap="butt" stroke-linejoin="miter"/>
<polyline points="1323,1898.9 1414,1898.9" fill="none" stroke="#66665e" stroke-width="4.8" stroke-linecap="butt" stroke-linejoin="miter"/>
<polyline points="1741,1898.9 1830,1898.9" fill="none" stroke="#66665e" stroke-width="4.8" stroke-linecap="butt" stroke-linejoin="miter"/>
<polyline points="1323,1958.3 1414,1958.3" fill="none" stroke="#66665e" stroke-width="4.8" stroke-linecap="butt" stroke-linejoin="miter"/>
<polyline points="1741,1958.3 1830,1958.3" fill="none" stroke="#66665e" stroke-width="4.8" stroke-linecap="butt" stroke-linejoin="miter"/>
<polyline points="1323,2017.8 1414,2017.8" fill="none" stroke="#66665e" stroke-width="4.8" stroke-linecap="butt" stroke-linejoin="miter"/>
<polyline points="1741,2017.8 1830,2017.8" fill="none" stroke="#66665e" stroke-width="4.8" stroke-linecap="butt" stroke-linejoin="miter"/>
<polyline points="1323,2077.2 1414,2077.2" fill="none" stroke="#66665e" stroke-width="4.8" stroke-linecap="butt" stroke-linejoin="miter"/>
<polyline points="1741,2077.2 1830,2077.2" fill="none" stroke="#66665e" stroke-width="4.8" stroke-linecap="butt" stroke-linejoin="miter"/>
<polyline points="1323,2136.7 1414,2136.7" fill="none" stroke="#66665e" stroke-width="4.8" stroke-linecap="butt" stroke-linejoin="miter"/>
<polyline points="1741,2136.7 1830,2136.7" fill="none" stroke="#66665e" stroke-width="4.8" stroke-linecap="butt" stroke-linejoin="miter"/>
<polyline points="1323,2196.2 1414,2196.2" fill="none" stroke="#66665e" stroke-width="4.8" stroke-linecap="butt" stroke-linejoin="miter"/>
<polyline points="1741,2196.2 1830,2196.2" fill="none" stroke="#66665e" stroke-width="4.8" stroke-linecap="butt" stroke-linejoin="miter"/>
<polyline points="1323,2255.6 1414,2255.6" fill="none" stroke="#66665e" stroke-width="4.8" stroke-linecap="butt" stroke-linejoin="miter"/>
<polyline points="1741,2255.6 1830,2255.6" fill="none" stroke="#66665e" stroke-width="4.8" stroke-linecap="butt" stroke-linejoin="miter"/>
<polyline points="1323,2315.1 1414,2315.1" fill="none" stroke="#66665e" stroke-width="4.8" stroke-linecap="butt" stroke-linejoin="miter"/>
<polyline points="1741,2315.1 1830,2315.1" fill="none" stroke="#66665e" stroke-width="4.8" stroke-linecap="butt" stroke-linejoin="miter"/>
<polyline points="1323,2374.5 1414,2374.5" fill="none" stroke="#66665e" stroke-width="4.8" stroke-linecap="butt" stroke-linejoin="miter"/>
<polyline points="1741,2374.5 1830,2374.5" fill="none" stroke="#66665e" stroke-width="4.8" stroke-linecap="butt" stroke-linejoin="miter"/>
<polyline points="1323,2433.9 1414,2433.9" fill="none" stroke="#66665e" stroke-width="4.8" stroke-linecap="butt" stroke-linejoin="miter"/>
<polyline points="1741,2433.9 1830,2433.9" fill="none" stroke="#66665e" stroke-width="4.8" stroke-linecap="butt" stroke-linejoin="miter"/>
<polyline points="1323,2493.4 1414,2493.4" fill="none" stroke="#66665e" stroke-width="4.8" stroke-linecap="butt" stroke-linejoin="miter"/>
<polyline points="1741,2493.4 1830,2493.4" fill="none" stroke="#66665e" stroke-width="4.8" stroke-linecap="butt" stroke-linejoin="miter"/>
<polyline points="1323,2552.8 1414,2552.8" fill="none" stroke="#66665e" stroke-width="4.8" stroke-linecap="butt" stroke-linejoin="miter"/>
<polyline points="1741,2552.8 1830,2552.8" fill="none" stroke="#66665e" stroke-width="4.8" stroke-linecap="butt" stroke-linejoin="miter"/>
<polyline points="1323,2612.3 1414,2612.3" fill="none" stroke="#66665e" stroke-width="4.8" stroke-linecap="butt" stroke-linejoin="miter"/>
<polyline points="1741,2612.3 1830,2612.3" fill="none" stroke="#66665e" stroke-width="4.8" stroke-linecap="butt" stroke-linejoin="miter"/>
<polyline points="224,1665 370,1665" fill="none" stroke="#6a6a84" stroke-width="3.9" stroke-linecap="square" stroke-linejoin="miter"/>
<polyline points="342,1665 370,1665" fill="none" stroke="#66665e" stroke-width="4.5" stroke-linecap="butt" stroke-linejoin="miter"/>
<polyline points="461,1665 489,1665" fill="none" stroke="#66665e" stroke-width="4.5" stroke-linecap="butt" stroke-linejoin="miter"/>
<polyline points="370,1665 379.1,1656.5 398.2,1673.5 415.5,1656.5 433.7,1673.5 451.9,1656.5 461,1665" fill="none" stroke="#4a4ad2" stroke-width="5.5" stroke-linecap="round" stroke-linejoin="round"/>
<polyline points="461,1665 758,1665 758,1961 1414,1961" fill="none" stroke="#6a6a84" stroke-width="3.9" stroke-linecap="square" stroke-linejoin="miter"/>
<polyline points="224,2079 370,2079" fill="none" stroke="#6a6a84" stroke-width="3.9" stroke-linecap="square" stroke-linejoin="miter"/>
<polyline points="342,2079 370,2079" fill="none" stroke="#66665e" stroke-width="4.5" stroke-linecap="butt" stroke-linejoin="miter"/>
<polyline points="461,2079 489,2079" fill="none" stroke="#66665e" stroke-width="4.5" stroke-linecap="butt" stroke-linejoin="miter"/>
<polyline points="370,2079 379.1,2070.5 398.2,2087.5 415.5,2070.5 433.7,2087.5 451.9,2070.5 461,2079" fill="none" stroke="#4a4ad2" stroke-width="5.5" stroke-linecap="round" stroke-linejoin="round"/>
<polyline points="461,2079 1414,2079" fill="none" stroke="#6a6a84" stroke-width="3.9" stroke-linecap="square" stroke-linejoin="miter"/>
<polyline points="224,2493 370,2493" fill="none" stroke="#6a6a84" stroke-width="3.9" stroke-linecap="square" stroke-linejoin="miter"/>
<polyline points="342,2493 370,2493" fill="none" stroke="#66665e" stroke-width="4.5" stroke-linecap="butt" stroke-linejoin="miter"/>
<polyline points="461,2493 489,2493" fill="none" stroke="#66665e" stroke-width="4.5" stroke-linecap="butt" stroke-linejoin="miter"/>
<polyline points="370,2493 379.1,2484.5 398.2,2501.5 415.5,2484.5 433.7,2501.5 451.9,2484.5 461,2493" fill="none" stroke="#4a4ad2" stroke-width="5.5" stroke-linecap="round" stroke-linejoin="round"/>
<polyline points="461,2493 729,2493 729,2197 1414,2197" fill="none" stroke="#6a6a84" stroke-width="3.9" stroke-linecap="square" stroke-linejoin="miter"/>
<polyline points="224,2907 370,2907" fill="none" stroke="#6a6a84" stroke-width="3.9" stroke-linecap="square" stroke-linejoin="miter"/>
<polyline points="342,2907 370,2907" fill="none" stroke="#66665e" stroke-width="4.5" stroke-linecap="butt" stroke-linejoin="miter"/>
<polyline points="461,2907 489,2907" fill="none" stroke="#66665e" stroke-width="4.5" stroke-linecap="butt" stroke-linejoin="miter"/>
<polyline points="370,2907 379.1,2898.5 398.2,2915.5 415.5,2898.5 433.7,2915.5 451.9,2898.5 461,2907" fill="none" stroke="#4a4ad2" stroke-width="5.5" stroke-linecap="round" stroke-linejoin="round"/>
<polyline points="461,2907 847,2907 847,2316 1414,2316" fill="none" stroke="#6a6a84" stroke-width="3.9" stroke-linecap="square" stroke-linejoin="miter"/>
<polyline points="225,1665 300,1665" fill="none" stroke="#66665e" stroke-width="4.5" stroke-linecap="butt" stroke-linejoin="miter"/>
<polyline points="225,2079 300,2079" fill="none" stroke="#66665e" stroke-width="4.5" stroke-linecap="butt" stroke-linejoin="miter"/>
<polyline points="225,2493 300,2493" fill="none" stroke="#66665e" stroke-width="4.5" stroke-linecap="butt" stroke-linejoin="miter"/>
<polyline points="225,2907 300,2907" fill="none" stroke="#66665e" stroke-width="4.5" stroke-linecap="butt" stroke-linejoin="miter"/>
<polyline points="281,3263 281,3291" fill="none" stroke="#c8665c" stroke-width="4" stroke-linecap="butt" stroke-linejoin="miter"/>
<polyline points="250,3291 312,3291" fill="none" stroke="#c8665c" stroke-width="4.2" stroke-linecap="butt" stroke-linejoin="miter"/>
<polyline points="260,3300.3 302,3300.3" fill="none" stroke="#c8665c" stroke-width="4.2" stroke-linecap="butt" stroke-linejoin="miter"/>
<polyline points="269,3309.6 293,3309.6" fill="none" stroke="#c8665c" stroke-width="4.2" stroke-linecap="butt" stroke-linejoin="miter"/>
<polyline points="277,3318.9 285,3318.9" fill="none" stroke="#c8665c" stroke-width="4.2" stroke-linecap="butt" stroke-linejoin="miter"/>
<polyline points="966,1841 966,1880" fill="none" stroke="#6a6a84" stroke-width="3.9" stroke-linecap="square" stroke-linejoin="miter"/>
<polyline points="937.5,1880 994.5,1880" fill="none" stroke="#4a4ad2" stroke-width="5.5" stroke-linecap="butt" stroke-linejoin="round"/>
<polyline points="937.5,1893 994.5,1893" fill="none" stroke="#4a4ad2" stroke-width="5.5" stroke-linecap="butt" stroke-linejoin="round"/>
<polyline points="966,1893 966,3263" fill="none" stroke="#6a6a84" stroke-width="3.9" stroke-linecap="square" stroke-linejoin="miter"/>
<polyline points="1025,1961 1025,1998" fill="none" stroke="#6a6a84" stroke-width="3.9" stroke-linecap="square" stroke-linejoin="miter"/>
<polyline points="996.5,1998 1053.5,1998" fill="none" stroke="#4a4ad2" stroke-width="5.5" stroke-linecap="butt" stroke-linejoin="round"/>
<polyline points="996.5,2010.5 1053.5,2010.5" fill="none" stroke="#4a4ad2" stroke-width="5.5" stroke-linecap="butt" stroke-linejoin="round"/>
<polyline points="1025,2010.5 1025,2433" fill="none" stroke="#6a6a84" stroke-width="3.9" stroke-linecap="square" stroke-linejoin="miter"/>
<polyline points="1085,2079 1085,2119" fill="none" stroke="#6a6a84" stroke-width="3.9" stroke-linecap="square" stroke-linejoin="miter"/>
<polyline points="1056.5,2119 1113.5,2119" fill="none" stroke="#4a4ad2" stroke-width="5.5" stroke-linecap="butt" stroke-linejoin="round"/>
<polyline points="1056.5,2131.5 1113.5,2131.5" fill="none" stroke="#4a4ad2" stroke-width="5.5" stroke-linecap="butt" stroke-linejoin="round"/>
<polyline points="1085,2131.5 1085,2433" fill="none" stroke="#6a6a84" stroke-width="3.9" stroke-linecap="square" stroke-linejoin="miter"/>
<polyline points="1144,2197 1144,2236" fill="none" stroke="#6a6a84" stroke-width="3.9" stroke-linecap="square" stroke-linejoin="miter"/>
<polyline points="1115.5,2236 1172.5,2236" fill="none" stroke="#4a4ad2" stroke-width="5.5" stroke-linecap="butt" stroke-linejoin="round"/>
<polyline points="1115.5,2248.5 1172.5,2248.5" fill="none" stroke="#4a4ad2" stroke-width="5.5" stroke-linecap="butt" stroke-linejoin="round"/>
<polyline points="1144,2248.5 1144,2433" fill="none" stroke="#6a6a84" stroke-width="3.9" stroke-linecap="square" stroke-linejoin="miter"/>
<polyline points="1204,2316 1204,2354" fill="none" stroke="#6a6a84" stroke-width="3.9" stroke-linecap="square" stroke-linejoin="miter"/>
<polyline points="1175.5,2354 1232.5,2354" fill="none" stroke="#4a4ad2" stroke-width="5.5" stroke-linecap="butt" stroke-linejoin="round"/>
<polyline points="1175.5,2366.5 1232.5,2366.5" fill="none" stroke="#4a4ad2" stroke-width="5.5" stroke-linecap="butt" stroke-linejoin="round"/>
<polyline points="1204,2366.5 1204,2433" fill="none" stroke="#6a6a84" stroke-width="3.9" stroke-linecap="square" stroke-linejoin="miter"/>
<polyline points="966,2433 1414,2433" fill="none" stroke="#6a6a84" stroke-width="3.9" stroke-linecap="square" stroke-linejoin="miter"/>
<polyline points="1414,2493 1054,2493 1054,2824" fill="none" stroke="#6a6a84" stroke-width="3.9" stroke-linecap="square" stroke-linejoin="miter"/>
<polyline points="1025.5,2824 1082.5,2824" fill="none" stroke="#4a4ad2" stroke-width="5.5" stroke-linecap="butt" stroke-linejoin="round"/>
<polyline points="1025.5,2837 1082.5,2837" fill="none" stroke="#4a4ad2" stroke-width="5.5" stroke-linecap="butt" stroke-linejoin="round"/>
<polyline points="1054,2837 1054,3263" fill="none" stroke="#6a6a84" stroke-width="3.9" stroke-linecap="square" stroke-linejoin="miter"/>
<polyline points="1144,2493 1144,2612" fill="none" stroke="#6a6a84" stroke-width="3.9" stroke-linecap="square" stroke-linejoin="miter"/>
<polyline points="1144,2584 1144,2612" fill="none" stroke="#66665e" stroke-width="4.5" stroke-linecap="butt" stroke-linejoin="miter"/>
<polyline points="1144,2701 1144,2729" fill="none" stroke="#66665e" stroke-width="4.5" stroke-linecap="butt" stroke-linejoin="miter"/>
<polyline points="1144,2612 1135.5,2620.9 1152.5,2639.6 1135.5,2658.3 1152.5,2676.1 1135.5,2693 1144,2701" fill="none" stroke="#4a4ad2" stroke-width="5.5" stroke-linecap="round" stroke-linejoin="round"/>
<polyline points="1144,2701 1144,2801" fill="none" stroke="#6a6a84" stroke-width="3.9" stroke-linecap="butt" stroke-linejoin="miter"/>
<circle cx="1144" cy="2810" r="8" fill="#fffff0" stroke="#8a8a90" stroke-width="3"/>
<circle cx="1144" cy="2887" r="8" fill="#fffff0" stroke="#8a8a90" stroke-width="3"/>
<polyline points="1120,2830 1143,2878" fill="none" stroke="#4a4ad2" stroke-width="4.5" stroke-linecap="round" stroke-linejoin="miter"/>
<polyline points="1144,2896 1144,3263" fill="none" stroke="#6a6a84" stroke-width="3.9" stroke-linecap="butt" stroke-linejoin="miter"/>
<polyline points="1414,2552 1204,2552 1204,2848" fill="none" stroke="#6a6a84" stroke-width="3.9" stroke-linecap="square" stroke-linejoin="miter"/>
<polyline points="1204,2820 1204,2848" fill="none" stroke="#66665e" stroke-width="4.5" stroke-linecap="butt" stroke-linejoin="miter"/>
<polyline points="1204,2938 1204,2966" fill="none" stroke="#66665e" stroke-width="4.5" stroke-linecap="butt" stroke-linejoin="miter"/>
<polyline points="1204,2848 1195.5,2857 1212.5,2875.9 1195.5,2894.8 1212.5,2912.8 1195.5,2929.9 1204,2938" fill="none" stroke="#4a4ad2" stroke-width="5.5" stroke-linecap="round" stroke-linejoin="round"/>
<polyline points="1204,2938 1204,2996 1323,2996" fill="none" stroke="#6a6a84" stroke-width="3.9" stroke-linecap="square" stroke-linejoin="miter"/>
<polyline points="1414,2612 1323,2612 1323,2848" fill="none" stroke="#6a6a84" stroke-width="3.9" stroke-linecap="square" stroke-linejoin="miter"/>
<polyline points="1323,2820 1323,2848" fill="none" stroke="#66665e" stroke-width="4.5" stroke-linecap="butt" stroke-linejoin="miter"/>
<polyline points="1323,2938 1323,2966" fill="none" stroke="#66665e" stroke-width="4.5" stroke-linecap="butt" stroke-linejoin="miter"/>
<polyline points="1323,2848 1314.5,2857 1331.5,2875.9 1314.5,2894.8 1331.5,2912.8 1314.5,2929.9 1323,2938" fill="none" stroke="#4a4ad2" stroke-width="5.5" stroke-linecap="round" stroke-linejoin="round"/>
<polyline points="1323,2938 1323,3058" fill="none" stroke="#6a6a84" stroke-width="3.9" stroke-linecap="square" stroke-linejoin="miter"/>
<polyline points="1323,3030 1323,3058" fill="none" stroke="#66665e" stroke-width="4.5" stroke-linecap="butt" stroke-linejoin="miter"/>
<polyline points="1323,3146 1323,3174" fill="none" stroke="#66665e" stroke-width="4.5" stroke-linecap="butt" stroke-linejoin="miter"/>
<polyline points="1323,3058 1314.5,3066.8 1331.5,3085.3 1314.5,3103.8 1331.5,3121.4 1314.5,3138.1 1323,3146" fill="none" stroke="#4a4ad2" stroke-width="5.5" stroke-linecap="round" stroke-linejoin="round"/>
<polyline points="1323,3146 1323,3263" fill="none" stroke="#6a6a84" stroke-width="3.9" stroke-linecap="square" stroke-linejoin="miter"/>
<polyline points="1302,3078 1340,3114" fill="none" stroke="#4a4ad2" stroke-width="4.5" stroke-linecap="round" stroke-linejoin="miter"/>
<rect x="1336" y="3110" width="10" height="10" fill="#1414e8"/>
<polyline points="1741,2612 1830,2612 1830,2944" fill="none" stroke="#6a6a84" stroke-width="3.9" stroke-linecap="square" stroke-linejoin="miter"/>
<polyline points="1801.5,2944 1858.5,2944" fill="none" stroke="#4a4ad2" stroke-width="5.5" stroke-linecap="butt" stroke-linejoin="round"/>
<polyline points="1801.5,2957 1858.5,2957" fill="none" stroke="#4a4ad2" stroke-width="5.5" stroke-linecap="butt" stroke-linejoin="round"/>
<polyline points="1830,2957 1830,3263" fill="none" stroke="#6a6a84" stroke-width="3.9" stroke-linecap="square" stroke-linejoin="miter"/>
<polyline points="1741,2552 1918,2552 1918,2944" fill="none" stroke="#6a6a84" stroke-width="3.9" stroke-linecap="square" stroke-linejoin="miter"/>
<polyline points="1889.5,2944 1946.5,2944" fill="none" stroke="#4a4ad2" stroke-width="5.5" stroke-linecap="butt" stroke-linejoin="round"/>
<polyline points="1889.5,2957 1946.5,2957" fill="none" stroke="#4a4ad2" stroke-width="5.5" stroke-linecap="butt" stroke-linejoin="round"/>
<polyline points="1918,2957 1918,3263" fill="none" stroke="#6a6a84" stroke-width="3.9" stroke-linecap="square" stroke-linejoin="miter"/>
<polyline points="1741,2493 2007,2493 2007,2944" fill="none" stroke="#6a6a84" stroke-width="3.9" stroke-linecap="square" stroke-linejoin="miter"/>
<polyline points="1978.5,2944 2035.5,2944" fill="none" stroke="#4a4ad2" stroke-width="5.5" stroke-linecap="butt" stroke-linejoin="round"/>
<polyline points="1978.5,2957 2035.5,2957" fill="none" stroke="#4a4ad2" stroke-width="5.5" stroke-linecap="butt" stroke-linejoin="round"/>
<polyline points="2007,2957 2007,3263" fill="none" stroke="#6a6a84" stroke-width="3.9" stroke-linecap="square" stroke-linejoin="miter"/>
<polyline points="1741,2433 2187,2433 2187,2996 2275,2996 2275,3055" fill="none" stroke="#6a6a84" stroke-width="3.9" stroke-linecap="square" stroke-linejoin="miter"/>
<polyline points="2275,3027 2275,3055" fill="none" stroke="#66665e" stroke-width="4.5" stroke-linecap="butt" stroke-linejoin="miter"/>
<polyline points="2275,3143 2275,3171" fill="none" stroke="#66665e" stroke-width="4.5" stroke-linecap="butt" stroke-linejoin="miter"/>
<polyline points="2275,3055 2266.5,3063.8 2283.5,3082.3 2266.5,3100.8 2283.5,3118.4 2266.5,3135.1 2275,3143" fill="none" stroke="#4a4ad2" stroke-width="5.5" stroke-linecap="round" stroke-linejoin="round"/>
<polyline points="2275,3143 2275,3263" fill="none" stroke="#6a6a84" stroke-width="3.9" stroke-linecap="square" stroke-linejoin="miter"/>
<polyline points="2067,2433 2067,2532" fill="none" stroke="#6a6a84" stroke-width="3.9" stroke-linecap="square" stroke-linejoin="miter"/>
<polyline points="2038.5,2532 2095.5,2532" fill="none" stroke="#4a4ad2" stroke-width="5.5" stroke-linecap="butt" stroke-linejoin="round"/>
<polyline points="2038.5,2544 2095.5,2544" fill="none" stroke="#4a4ad2" stroke-width="5.5" stroke-linecap="butt" stroke-linejoin="round"/>
<polyline points="2067,2544 2067,2640 2126,2640" fill="none" stroke="#6a6a84" stroke-width="3.9" stroke-linecap="square" stroke-linejoin="miter"/>
<polyline points="2126,2433 2126,2494" fill="none" stroke="#6a6a84" stroke-width="3.9" stroke-linecap="square" stroke-linejoin="miter"/>
<polyline points="2126,2466 2126,2494" fill="none" stroke="#66665e" stroke-width="4.5" stroke-linecap="butt" stroke-linejoin="miter"/>
<polyline points="2126,2582 2126,2610" fill="none" stroke="#66665e" stroke-width="4.5" stroke-linecap="butt" stroke-linejoin="miter"/>
<polyline points="2126,2494 2117.5,2502.8 2134.5,2521.3 2117.5,2539.8 2134.5,2557.4 2117.5,2574.1 2126,2582" fill="none" stroke="#4a4ad2" stroke-width="5.5" stroke-linecap="round" stroke-linejoin="round"/>
<polyline points="2126,2582 2126,2640" fill="none" stroke="#6a6a84" stroke-width="3.9" stroke-linecap="square" stroke-linejoin="miter"/>
<polyline points="2126,2640 2126,2668" fill="none" stroke="#c8665c" stroke-width="4" stroke-linecap="butt" stroke-linejoin="miter"/>
<polyline points="2095,2668 2157,2668" fill="none" stroke="#c8665c" stroke-width="4.2" stroke-linecap="butt" stroke-linejoin="miter"/>
<polyline points="2105,2677.3 2147,2677.3" fill="none" stroke="#c8665c" stroke-width="4.2" stroke-linecap="butt" stroke-linejoin="miter"/>
<polyline points="2114,2686.6 2138,2686.6" fill="none" stroke="#c8665c" stroke-width="4.2" stroke-linecap="butt" stroke-linejoin="miter"/>
<polyline points="2122,2695.9 2130,2695.9" fill="none" stroke="#c8665c" stroke-width="4.2" stroke-linecap="butt" stroke-linejoin="miter"/>
<polyline points="1741,2138 3048,2138" fill="none" stroke="#6a6a84" stroke-width="3.9" stroke-linecap="square" stroke-linejoin="miter"/>
<polyline points="3020,2138 3048,2138" fill="none" stroke="#66665e" stroke-width="4.5" stroke-linecap="butt" stroke-linejoin="miter"/>
<polyline points="3137,2138 3165,2138" fill="none" stroke="#66665e" stroke-width="4.5" stroke-linecap="butt" stroke-linejoin="miter"/>
<polyline points="3048,2138 3056.9,2146.5 3075.6,2129.5 3092.5,2146.5 3110.3,2129.5 3128.1,2146.5 3137,2138" fill="none" stroke="#4a4ad2" stroke-width="5.5" stroke-linecap="round" stroke-linejoin="round"/>
<polyline points="3137,2138 3258,2138 3258,3263" fill="none" stroke="#6a6a84" stroke-width="3.9" stroke-linecap="square" stroke-linejoin="miter"/>
<polyline points="2811,2138 2811,2236" fill="none" stroke="#6a6a84" stroke-width="3.9" stroke-linecap="square" stroke-linejoin="miter"/>
<polyline points="2782.5,2236 2839.5,2236" fill="none" stroke="#4a4ad2" stroke-width="5.5" stroke-linecap="butt" stroke-linejoin="round"/>
<polyline points="2782.5,2248 2839.5,2248" fill="none" stroke="#4a4ad2" stroke-width="5.5" stroke-linecap="butt" stroke-linejoin="round"/>
<polyline points="2811,2248 2811,2345 2959,2345" fill="none" stroke="#6a6a84" stroke-width="3.9" stroke-linecap="square" stroke-linejoin="miter"/>
<polyline points="2959,2138 2959,2197" fill="none" stroke="#6a6a84" stroke-width="3.9" stroke-linecap="square" stroke-linejoin="miter"/>
<polyline points="2959,2169 2959,2197" fill="none" stroke="#66665e" stroke-width="4.5" stroke-linecap="butt" stroke-linejoin="miter"/>
<polyline points="2959,2285 2959,2313" fill="none" stroke="#66665e" stroke-width="4.5" stroke-linecap="butt" stroke-linejoin="miter"/>
<polyline points="2959,2197 2950.5,2205.8 2967.5,2224.3 2950.5,2242.8 2967.5,2260.4 2950.5,2277.1 2959,2285" fill="none" stroke="#4a4ad2" stroke-width="5.5" stroke-linecap="round" stroke-linejoin="round"/>
<polyline points="2959,2285 2959,2345" fill="none" stroke="#6a6a84" stroke-width="3.9" stroke-linecap="square" stroke-linejoin="miter"/>
<polyline points="2959,2345 2959,2375" fill="none" stroke="#c8665c" stroke-width="4" stroke-linecap="butt" stroke-linejoin="miter"/>
<polyline points="2928,2375 2990,2375" fill="none" stroke="#c8665c" stroke-width="4.2" stroke-linecap="butt" stroke-linejoin="miter"/>
<polyline points="2938,2384.3 2980,2384.3" fill="none" stroke="#c8665c" stroke-width="4.2" stroke-linecap="butt" stroke-linejoin="miter"/>
<polyline points="2947,2393.6 2971,2393.6" fill="none" stroke="#c8665c" stroke-width="4.2" stroke-linecap="butt" stroke-linejoin="miter"/>
<polyline points="2955,2402.9 2963,2402.9" fill="none" stroke="#c8665c" stroke-width="4.2" stroke-linecap="butt" stroke-linejoin="miter"/>
<polyline points="1741,2197 1948,2197 1948,2256" fill="none" stroke="#6a6a84" stroke-width="3.9" stroke-linecap="square" stroke-linejoin="miter"/>
<polyline points="1741,2256 2245,2256 2245,2079 2692,2079 2692,1841 2931,1841" fill="none" stroke="#6a6a84" stroke-width="3.9" stroke-linecap="square" stroke-linejoin="miter"/>
<polyline points="2903,1841 2931,1841" fill="none" stroke="#66665e" stroke-width="4.5" stroke-linecap="butt" stroke-linejoin="miter"/>
<polyline points="3019,1841 3047,1841" fill="none" stroke="#66665e" stroke-width="4.5" stroke-linecap="butt" stroke-linejoin="miter"/>
<polyline points="2931,1841 2939.8,1849.5 2958.3,1832.5 2975,1849.5 2992.6,1832.5 3010.2,1849.5 3019,1841" fill="none" stroke="#4a4ad2" stroke-width="5.5" stroke-linecap="round" stroke-linejoin="round"/>
<polyline points="3019,1841 3167,1841" fill="none" stroke="#6a6a84" stroke-width="3.9" stroke-linecap="square" stroke-linejoin="miter"/>
<polyline points="1741,2316 2424,2316" fill="none" stroke="#6a6a84" stroke-width="3.9" stroke-linecap="square" stroke-linejoin="miter"/>
<polyline points="2396,2316 2424,2316" fill="none" stroke="#66665e" stroke-width="4.5" stroke-linecap="butt" stroke-linejoin="miter"/>
<polyline points="2512,2316 2540,2316" fill="none" stroke="#66665e" stroke-width="4.5" stroke-linecap="butt" stroke-linejoin="miter"/>
<polyline points="2424,2316 2432.8,2324.5 2451.3,2307.5 2468,2324.5 2485.6,2307.5 2503.2,2324.5 2512,2316" fill="none" stroke="#4a4ad2" stroke-width="5.5" stroke-linecap="round" stroke-linejoin="round"/>
<polyline points="2512,2316 2662,2316" fill="none" stroke="#6a6a84" stroke-width="3.9" stroke-linecap="square" stroke-linejoin="miter"/>
<polyline points="2364,2316 2364,2197 2422,2197" fill="none" stroke="#6a6a84" stroke-width="3.9" stroke-linecap="square" stroke-linejoin="miter"/>
<polyline points="2422,2197 2512,2197" fill="none" stroke="#3c3cf0" stroke-width="5" stroke-linecap="butt" stroke-linejoin="miter"/>
<polygon points="2484,2167 2484,2227 2450,2197" fill="#0000f6"/>
<polyline points="2450,2166 2450,2228" fill="none" stroke="#0000f6" stroke-width="7" stroke-linecap="butt" stroke-linejoin="miter"/>
<polyline points="2512,2197 2662,2197 2662,2989" fill="none" stroke="#6a6a84" stroke-width="3.9" stroke-linecap="square" stroke-linejoin="miter"/>
<polyline points="2662,2463 2602,2463" fill="none" stroke="#6a6a84" stroke-width="3.9" stroke-linecap="square" stroke-linejoin="miter"/>
<polyline points="2484,2463 2512,2463" fill="none" stroke="#66665e" stroke-width="4.5" stroke-linecap="butt" stroke-linejoin="miter"/>
<polyline points="2602,2463 2630,2463" fill="none" stroke="#66665e" stroke-width="4.5" stroke-linecap="butt" stroke-linejoin="miter"/>
<polyline points="2512,2463 2521,2471.5 2539.9,2454.5 2557,2471.5 2575,2454.5 2593,2471.5 2602,2463" fill="none" stroke="#4a4ad2" stroke-width="5.5" stroke-linecap="round" stroke-linejoin="round"/>
<polyline points="2512,2463 2454,2463 2454,2639" fill="none" stroke="#6a6a84" stroke-width="3.9" stroke-linecap="square" stroke-linejoin="miter"/>
<polyline points="2424,2640 2424,2701" fill="none" stroke="#4a4ad2" stroke-width="5.5" stroke-linecap="butt" stroke-linejoin="round"/>
<polyline points="2424,2662 2454,2639" fill="none" stroke="#4a4ad2" stroke-width="5.5" stroke-linecap="round" stroke-linejoin="round"/>
<polyline points="2424,2679 2454,2701" fill="none" stroke="#4a4ad2" stroke-width="5.5" stroke-linecap="round" stroke-linejoin="round"/>
<polygon points="2454,2701 2440.1,2699.5 2448.4,2688.2" fill="none" stroke="#4a4ad2" stroke-width="3" stroke-linejoin="round"/>
<polyline points="2245,2670 2424,2670" fill="none" stroke="#6a6a84" stroke-width="3.9" stroke-linecap="square" stroke-linejoin="miter"/>
<polyline points="2454,2701 2454,2877 2245,2877" fill="none" stroke="#6a6a84" stroke-width="3.9" stroke-linecap="square" stroke-linejoin="miter"/>
<polyline points="2364,2463 2245,2463 2245,2522" fill="none" stroke="#6a6a84" stroke-width="3.9" stroke-linecap="square" stroke-linejoin="miter"/>
<polyline points="2245,2494 2245,2522" fill="none" stroke="#66665e" stroke-width="4.5" stroke-linecap="butt" stroke-linejoin="miter"/>
<polyline points="2245,2611 2245,2639" fill="none" stroke="#66665e" stroke-width="4.5" stroke-linecap="butt" stroke-linejoin="miter"/>
<polyline points="2245,2522 2236.5,2530.9 2253.5,2549.6 2236.5,2568.3 2253.5,2586.1 2236.5,2603 2245,2611" fill="none" stroke="#4a4ad2" stroke-width="5.5" stroke-linecap="round" stroke-linejoin="round"/>
<polyline points="2245,2611 2245,2730" fill="none" stroke="#6a6a84" stroke-width="3.9" stroke-linecap="square" stroke-linejoin="miter"/>
<polyline points="2245,2702 2245,2730" fill="none" stroke="#66665e" stroke-width="4.5" stroke-linecap="butt" stroke-linejoin="miter"/>
<polyline points="2245,2818 2245,2846" fill="none" stroke="#66665e" stroke-width="4.5" stroke-linecap="butt" stroke-linejoin="miter"/>
<polyline points="2245,2730 2236.5,2738.8 2253.5,2757.3 2236.5,2775.8 2253.5,2793.4 2236.5,2810.1 2245,2818" fill="none" stroke="#4a4ad2" stroke-width="5.5" stroke-linecap="round" stroke-linejoin="round"/>
<polyline points="2245,2818 2245,2877" fill="none" stroke="#6a6a84" stroke-width="3.9" stroke-linecap="square" stroke-linejoin="miter"/>
<polyline points="2335,2670 2335,2767" fill="none" stroke="#6a6a84" stroke-width="3.9" stroke-linecap="square" stroke-linejoin="miter"/>
<polyline points="2306.5,2767 2363.5,2767" fill="none" stroke="#4a4ad2" stroke-width="5.5" stroke-linecap="butt" stroke-linejoin="round"/>
<polyline points="2306.5,2780 2363.5,2780" fill="none" stroke="#4a4ad2" stroke-width="5.5" stroke-linecap="butt" stroke-linejoin="round"/>
<polyline points="2335,2780 2335,2877" fill="none" stroke="#6a6a84" stroke-width="3.9" stroke-linecap="square" stroke-linejoin="miter"/>
<polyline points="2335,2877 2335,2904" fill="none" stroke="#c8665c" stroke-width="4" stroke-linecap="butt" stroke-linejoin="miter"/>
<polyline points="2304,2904 2366,2904" fill="none" stroke="#c8665c" stroke-width="4.2" stroke-linecap="butt" stroke-linejoin="miter"/>
<polyline points="2314,2913.3 2356,2913.3" fill="none" stroke="#c8665c" stroke-width="4.2" stroke-linecap="butt" stroke-linejoin="miter"/>
<polyline points="2323,2922.6 2347,2922.6" fill="none" stroke="#c8665c" stroke-width="4.2" stroke-linecap="butt" stroke-linejoin="miter"/>
<polyline points="2331,2931.9 2339,2931.9" fill="none" stroke="#c8665c" stroke-width="4.2" stroke-linecap="butt" stroke-linejoin="miter"/>
<polyline points="2662,2907 2484,2907 2484,3115" fill="none" stroke="#6a6a84" stroke-width="3.9" stroke-linecap="square" stroke-linejoin="miter"/>
<polyline points="2484,3087 2484,3115" fill="none" stroke="#66665e" stroke-width="4.5" stroke-linecap="butt" stroke-linejoin="miter"/>
<polyline points="2484,3204 2484,3232" fill="none" stroke="#66665e" stroke-width="4.5" stroke-linecap="butt" stroke-linejoin="miter"/>
<polyline points="2484,3115 2475.5,3123.9 2492.5,3142.6 2475.5,3161.3 2492.5,3179.1 2475.5,3196 2484,3204" fill="none" stroke="#4a4ad2" stroke-width="5.5" stroke-linecap="round" stroke-linejoin="round"/>
<polyline points="2484,3204 2484,3263" fill="none" stroke="#6a6a84" stroke-width="3.9" stroke-linecap="square" stroke-linejoin="miter"/>
<polyline points="2662,2907 2842,2907 2842,3143 2662,3143 2662,3226" fill="none" stroke="#6a6a84" stroke-width="3.9" stroke-linecap="square" stroke-linejoin="miter"/>
<polyline points="2573,3024 2632,3024" fill="none" stroke="#66665e" stroke-width="4.5" stroke-linecap="butt" stroke-linejoin="miter"/>
<polyline points="2693,3024 2752,3024" fill="none" stroke="#66665e" stroke-width="4.5" stroke-linecap="butt" stroke-linejoin="miter"/>
<polyline points="2573,3263 2632,3263" fill="none" stroke="#66665e" stroke-width="4.5" stroke-linecap="butt" stroke-linejoin="miter"/>
<polyline points="2693,3263 2752,3263" fill="none" stroke="#66665e" stroke-width="4.5" stroke-linecap="butt" stroke-linejoin="miter"/>
<polyline points="2635,2990 2689,2990" fill="none" stroke="#4a4ad2" stroke-width="6" stroke-linecap="butt" stroke-linejoin="round"/>
<polyline points="2641,2996 2641,3024" fill="none" stroke="#4a4ad2" stroke-width="5" stroke-linecap="butt" stroke-linejoin="round"/>
<polyline points="2662,2996 2662,3024" fill="none" stroke="#4a4ad2" stroke-width="5" stroke-linecap="butt" stroke-linejoin="round"/>
<polyline points="2683,2996 2683,3024" fill="none" stroke="#4a4ad2" stroke-width="5" stroke-linecap="butt" stroke-linejoin="round"/>
<polyline points="2641,3024 2662,3024" fill="none" stroke="#4a4ad2" stroke-width="5" stroke-linecap="butt" stroke-linejoin="round"/>
<polyline points="2632,3024 2632,3055 2693,3055 2693,3024" fill="none" stroke="#4a4ad2" stroke-width="4.5" stroke-linecap="butt" stroke-linejoin="round"/>
<polyline points="2683,3024 2693,3024" fill="none" stroke="#4a4ad2" stroke-width="5" stroke-linecap="butt" stroke-linejoin="round"/>
<polyline points="2632,3024 2641,3024" fill="none" stroke="#4a4ad2" stroke-width="5" stroke-linecap="butt" stroke-linejoin="round"/>
<polygon points="2662,3000 2656,3014 2668,3014" fill="#1010e0"/>
<polygon points="2654,3048 2654,3062 2666,3055" fill="#1010e0"/>
<polyline points="2667,3047 2667,3063" fill="none" stroke="#1010e0" stroke-width="3.5" stroke-linecap="butt" stroke-linejoin="round"/>
<polyline points="2635,3227 2689,3227" fill="none" stroke="#4a4ad2" stroke-width="6" stroke-linecap="butt" stroke-linejoin="round"/>
<polyline points="2641,3233 2641,3263" fill="none" stroke="#4a4ad2" stroke-width="5" stroke-linecap="butt" stroke-linejoin="round"/>
<polyline points="2662,3233 2662,3263" fill="none" stroke="#4a4ad2" stroke-width="5" stroke-linecap="butt" stroke-linejoin="round"/>
<polyline points="2683,3233 2683,3263" fill="none" stroke="#4a4ad2" stroke-width="5" stroke-linecap="butt" stroke-linejoin="round"/>
<polyline points="2641,3263 2662,3263" fill="none" stroke="#4a4ad2" stroke-width="5" stroke-linecap="butt" stroke-linejoin="round"/>
<polyline points="2632,3263 2632,3294 2693,3294 2693,3263" fill="none" stroke="#4a4ad2" stroke-width="4.5" stroke-linecap="butt" stroke-linejoin="round"/>
<polyline points="2683,3263 2693,3263" fill="none" stroke="#4a4ad2" stroke-width="5" stroke-linecap="butt" stroke-linejoin="round"/>
<polyline points="2632,3263 2641,3263" fill="none" stroke="#4a4ad2" stroke-width="5" stroke-linecap="butt" stroke-linejoin="round"/>
<polygon points="2662,3237 2656,3251 2668,3251" fill="#1010e0"/>
<polygon points="2654,3287 2654,3301 2666,3294" fill="#1010e0"/>
<polyline points="2667,3286 2667,3302" fill="none" stroke="#1010e0" stroke-width="3.5" stroke-linecap="butt" stroke-linejoin="round"/>
<polyline points="2067,3263 2126,3263" fill="none" stroke="#66665e" stroke-width="4.5" stroke-linecap="butt" stroke-linejoin="miter"/>
<polyline points="2098,3263 2126,3263" fill="none" stroke="#66665e" stroke-width="4.5" stroke-linecap="butt" stroke-linejoin="miter"/>
<polyline points="2216,3263 2244,3263" fill="none" stroke="#66665e" stroke-width="4.5" stroke-linecap="butt" stroke-linejoin="miter"/>
<polyline points="2126,3263 2135,3271.5 2153.9,3254.5 2171,3271.5 2189,3254.5 2207,3271.5 2216,3263" fill="none" stroke="#4a4ad2" stroke-width="5.5" stroke-linecap="round" stroke-linejoin="round"/>
<polyline points="2216,3263 2275,3263" fill="none" stroke="#66665e" stroke-width="4.5" stroke-linecap="butt" stroke-linejoin="miter"/>
<polyline points="1948,1368 1948,1485" fill="none" stroke="#6a6a84" stroke-width="3.9" stroke-linecap="square" stroke-linejoin="miter"/>
<polyline points="1948,1457 1948,1485" fill="none" stroke="#66665e" stroke-width="4.5" stroke-linecap="butt" stroke-linejoin="miter"/>
<polyline points="1948,1577 1948,1605" fill="none" stroke="#66665e" stroke-width="4.5" stroke-linecap="butt" stroke-linejoin="miter"/>
<polyline points="1948,1485 1939.5,1494.2 1956.5,1513.5 1939.5,1532.8 1956.5,1551.2 1939.5,1568.7 1948,1577" fill="none" stroke="#4a4ad2" stroke-width="5.5" stroke-linecap="round" stroke-linejoin="round"/>
<polyline points="1948,1577 1948,1635 2032,1635" fill="none" stroke="#6a6a84" stroke-width="3.9" stroke-linecap="square" stroke-linejoin="miter"/>
<polyline points="1948,1368 2662,1368 2662,1605 3138,1605 3138,1072" fill="none" stroke="#6a6a84" stroke-width="3.9" stroke-linecap="square" stroke-linejoin="miter"/>
<polyline points="2842,1368 2842,1281 2185,1281 2185,1368" fill="none" stroke="#6a6a84" stroke-width="3.9" stroke-linecap="square" stroke-linejoin="miter"/>
<polyline points="2185,1340 2185,1368" fill="none" stroke="#66665e" stroke-width="4.5" stroke-linecap="butt" stroke-linejoin="miter"/>
<polyline points="2185,1456 2185,1484" fill="none" stroke="#66665e" stroke-width="4.5" stroke-linecap="butt" stroke-linejoin="miter"/>
<polyline points="2185,1368 2176.5,1376.8 2193.5,1395.3 2176.5,1413.8 2193.5,1431.4 2176.5,1448.1 2185,1456" fill="none" stroke="#4a4ad2" stroke-width="5.5" stroke-linecap="round" stroke-linejoin="round"/>
<polyline points="2185,1456 2185,1723" fill="none" stroke="#6a6a84" stroke-width="3.9" stroke-linecap="square" stroke-linejoin="miter"/>
<polyline points="2781,1250 2781,1368" fill="none" stroke="#6a6a84" stroke-width="3.9" stroke-linecap="square" stroke-linejoin="miter"/>
<polyline points="2811,1281 2811,1368" fill="none" stroke="#6a6a84" stroke-width="3.9" stroke-linecap="square" stroke-linejoin="miter"/>
<polyline points="2185,1579 2185,1666" fill="none" stroke="#3c3cf0" stroke-width="5" stroke-linecap="butt" stroke-linejoin="miter"/>
<polygon points="2157,1596 2213,1596 2185,1626" fill="#0000f6"/>
<polyline points="2155,1628 2215,1628" fill="none" stroke="#0000f6" stroke-width="7" stroke-linecap="butt" stroke-linejoin="miter"/>
<polyline points="2221,1607 2236,1620" fill="none" stroke="#2a2ae0" stroke-width="4" stroke-linecap="butt" stroke-linejoin="miter"/>
<rect x="2231" y="1615" width="9" height="9" fill="#1414e8"/>
<polyline points="2221,1630 2236,1643" fill="none" stroke="#2a2ae0" stroke-width="4" stroke-linecap="butt" stroke-linejoin="miter"/>
<rect x="2231" y="1638" width="9" height="9" fill="#1414e8"/>
<polyline points="2185,1723 2185,1752" fill="none" stroke="#c8665c" stroke-width="4" stroke-linecap="butt" stroke-linejoin="miter"/>
<polyline points="2154,1752 2216,1752" fill="none" stroke="#c8665c" stroke-width="4.2" stroke-linecap="butt" stroke-linejoin="miter"/>
<polyline points="2164,1761.3 2206,1761.3" fill="none" stroke="#c8665c" stroke-width="4.2" stroke-linecap="butt" stroke-linejoin="miter"/>
<polyline points="2173,1770.6 2197,1770.6" fill="none" stroke="#c8665c" stroke-width="4.2" stroke-linecap="butt" stroke-linejoin="miter"/>
<polyline points="2181,1779.9 2189,1779.9" fill="none" stroke="#c8665c" stroke-width="4.2" stroke-linecap="butt" stroke-linejoin="miter"/>
<polyline points="2067,1604 2067,1516 2306,1516 2306,1577" fill="none" stroke="#6a6a84" stroke-width="3.9" stroke-linecap="square" stroke-linejoin="miter"/>
<polyline points="2306,1549 2306,1577" fill="none" stroke="#66665e" stroke-width="4.5" stroke-linecap="butt" stroke-linejoin="miter"/>
<polyline points="2306,1665 2306,1693" fill="none" stroke="#66665e" stroke-width="4.5" stroke-linecap="butt" stroke-linejoin="miter"/>
<polyline points="2306,1577 2297.5,1585.8 2314.5,1604.3 2297.5,1622.8 2314.5,1640.4 2297.5,1657.1 2306,1665" fill="none" stroke="#4a4ad2" stroke-width="5.5" stroke-linecap="round" stroke-linejoin="round"/>
<polyline points="2306,1665 2306,1723 2067,1723 2067,1664" fill="none" stroke="#6a6a84" stroke-width="3.9" stroke-linecap="square" stroke-linejoin="miter"/>
<polyline points="2032,1608 2032,1661" fill="none" stroke="#4a4ad2" stroke-width="6" stroke-linecap="butt" stroke-linejoin="round"/>
<polyline points="2036,1612 2067,1612" fill="none" stroke="#4a4ad2" stroke-width="5" stroke-linecap="butt" stroke-linejoin="round"/>
<polyline points="2036,1635 2067,1635" fill="none" stroke="#4a4ad2" stroke-width="5" stroke-linecap="butt" stroke-linejoin="round"/>
<polyline points="2036,1657 2067,1657" fill="none" stroke="#4a4ad2" stroke-width="5" stroke-linecap="butt" stroke-linejoin="round"/>
<polyline points="2067,1604 2098,1604 2098,1664 2067,1664" fill="none" stroke="#4a4ad2" stroke-width="4.5" stroke-linecap="butt" stroke-linejoin="round"/>
<polyline points="2067,1635 2067,1664" fill="none" stroke="#4a4ad2" stroke-width="4.5" stroke-linecap="butt" stroke-linejoin="round"/>
<polygon points="2040,1635 2054,1629 2054,1641" fill="#1010e0"/>
<polygon points="2098,1628 2091,1642 2105,1642" fill="#1010e0"/>
<polyline points="2364,1368 2364,1427" fill="none" stroke="#6a6a84" stroke-width="3.9" stroke-linecap="square" stroke-linejoin="miter"/>
<polyline points="2364,1399 2364,1427" fill="none" stroke="#66665e" stroke-width="4.5" stroke-linecap="butt" stroke-linejoin="miter"/>
<polyline points="2364,1517 2364,1545" fill="none" stroke="#66665e" stroke-width="4.5" stroke-linecap="butt" stroke-linejoin="miter"/>
<polyline points="2364,1427 2355.5,1436 2372.5,1454.9 2355.5,1473.8 2372.5,1491.8 2355.5,1508.9 2364,1517" fill="none" stroke="#4a4ad2" stroke-width="5.5" stroke-linecap="round" stroke-linejoin="round"/>
<polyline points="2364,1517 2364,1575 2454,1575" fill="none" stroke="#6a6a84" stroke-width="3.9" stroke-linecap="square" stroke-linejoin="miter"/>
<polyline points="2454,1368 2454,1631" fill="none" stroke="#6a6a84" stroke-width="3.9" stroke-linecap="square" stroke-linejoin="miter"/>
<polyline points="2454,1603 2454,1631" fill="none" stroke="#66665e" stroke-width="4.5" stroke-linecap="butt" stroke-linejoin="miter"/>
<polyline points="2454,1722 2454,1750" fill="none" stroke="#66665e" stroke-width="4.5" stroke-linecap="butt" stroke-linejoin="miter"/>
<polyline points="2454,1631 2445.5,1640.1 2462.5,1659.2 2445.5,1678.3 2462.5,1696.5 2445.5,1713.8 2454,1722" fill="none" stroke="#4a4ad2" stroke-width="5.5" stroke-linecap="round" stroke-linejoin="round"/>
<polyline points="2454,1722 2454,1780" fill="none" stroke="#6a6a84" stroke-width="3.9" stroke-linecap="square" stroke-linejoin="miter"/>
<polyline points="2454,1427 2454,1517" fill="none" stroke="#3c3cf0" stroke-width="5" stroke-linecap="butt" stroke-linejoin="miter"/>
<polygon points="2426,1448 2482,1448 2454,1477" fill="#0000f6"/>
<polyline points="2424,1479 2484,1479" fill="none" stroke="#0000f6" stroke-width="7" stroke-linecap="butt" stroke-linejoin="miter"/>
<polyline points="2490,1457 2505,1470" fill="none" stroke="#2a2ae0" stroke-width="4" stroke-linecap="butt" stroke-linejoin="miter"/>
<rect x="2500" y="1465" width="9" height="9" fill="#1414e8"/>
<polyline points="2490,1480 2505,1493" fill="none" stroke="#2a2ae0" stroke-width="4" stroke-linecap="butt" stroke-linejoin="miter"/>
<rect x="2500" y="1488" width="9" height="9" fill="#1414e8"/>
<polyline points="2454,1780 2454,1811" fill="none" stroke="#c8665c" stroke-width="4" stroke-linecap="butt" stroke-linejoin="miter"/>
<polyline points="2423,1811 2485,1811" fill="none" stroke="#c8665c" stroke-width="4.2" stroke-linecap="butt" stroke-linejoin="miter"/>
<polyline points="2433,1820.3 2475,1820.3" fill="none" stroke="#c8665c" stroke-width="4.2" stroke-linecap="butt" stroke-linejoin="miter"/>
<polyline points="2442,1829.6 2466,1829.6" fill="none" stroke="#c8665c" stroke-width="4.2" stroke-linecap="butt" stroke-linejoin="miter"/>
<polyline points="2450,1838.9 2458,1838.9" fill="none" stroke="#c8665c" stroke-width="4.2" stroke-linecap="butt" stroke-linejoin="miter"/>
<polyline points="2781,1300 2781,1368" fill="none" stroke="#66665e" stroke-width="5" stroke-linecap="butt" stroke-linejoin="miter"/>
<polyline points="2781,1517 2781,1590" fill="none" stroke="#66665e" stroke-width="5" stroke-linecap="butt" stroke-linejoin="miter"/>
<polyline points="2781,1590 2781,1605" fill="none" stroke="#6a6a84" stroke-width="3.9" stroke-linecap="square" stroke-linejoin="miter"/>
<polyline points="2811,1300 2811,1368" fill="none" stroke="#66665e" stroke-width="5" stroke-linecap="butt" stroke-linejoin="miter"/>
<polyline points="2811,1517 2811,1590" fill="none" stroke="#66665e" stroke-width="5" stroke-linecap="butt" stroke-linejoin="miter"/>
<polyline points="2811,1590 2811,1605" fill="none" stroke="#6a6a84" stroke-width="3.9" stroke-linecap="square" stroke-linejoin="miter"/>
<polyline points="2842,1300 2842,1368" fill="none" stroke="#66665e" stroke-width="5" stroke-linecap="butt" stroke-linejoin="miter"/>
<polyline points="2842,1517 2842,1590" fill="none" stroke="#66665e" stroke-width="5" stroke-linecap="butt" stroke-linejoin="miter"/>
<polyline points="2842,1590 2842,1605" fill="none" stroke="#6a6a84" stroke-width="3.9" stroke-linecap="square" stroke-linejoin="miter"/>
<polyline points="2871,1300 2871,1368" fill="none" stroke="#66665e" stroke-width="5" stroke-linecap="butt" stroke-linejoin="miter"/>
<polyline points="2871,1517 2871,1590" fill="none" stroke="#66665e" stroke-width="5" stroke-linecap="butt" stroke-linejoin="miter"/>
<polyline points="2871,1590 2871,1605" fill="none" stroke="#6a6a84" stroke-width="3.9" stroke-linecap="square" stroke-linejoin="miter"/>
<polyline points="2871,1368 2871,1281 2990,1281 2990,1396" fill="none" stroke="#6a6a84" stroke-width="3.9" stroke-linecap="square" stroke-linejoin="miter"/>
<polyline points="2990,1368 2990,1396" fill="none" stroke="#66665e" stroke-width="4.5" stroke-linecap="butt" stroke-linejoin="miter"/>
<polyline points="2990,1487 2990,1515" fill="none" stroke="#66665e" stroke-width="4.5" stroke-linecap="butt" stroke-linejoin="miter"/>
<polyline points="2990,1396 2981.5,1405.1 2998.5,1424.2 2981.5,1443.3 2998.5,1461.5 2981.5,1478.8 2990,1487" fill="none" stroke="#4a4ad2" stroke-width="5.5" stroke-linecap="round" stroke-linejoin="round"/>
<polyline points="2990,1487 2990,1576 3405,1576" fill="none" stroke="#6a6a84" stroke-width="3.9" stroke-linecap="square" stroke-linejoin="miter"/>
<polyline points="3377,1576 3405,1576" fill="none" stroke="#66665e" stroke-width="4.5" stroke-linecap="butt" stroke-linejoin="miter"/>
<polyline points="3493,1576 3521,1576" fill="none" stroke="#66665e" stroke-width="4.5" stroke-linecap="butt" stroke-linejoin="miter"/>
<polyline points="3405,1576 3413.8,1584.5 3432.3,1567.5 3449,1584.5 3466.6,1567.5 3484.2,1584.5 3493,1576" fill="none" stroke="#4a4ad2" stroke-width="5.5" stroke-linecap="round" stroke-linejoin="round"/>
<polyline points="3493,1576 3823,1576 3823,1811" fill="none" stroke="#6a6a84" stroke-width="3.9" stroke-linecap="square" stroke-linejoin="miter"/>
<polyline points="2990,1338 3048,1338" fill="none" stroke="#6a6a84" stroke-width="3.9" stroke-linecap="square" stroke-linejoin="miter"/>
<polyline points="3020,1338 3048,1338" fill="none" stroke="#66665e" stroke-width="4.5" stroke-linecap="butt" stroke-linejoin="miter"/>
<polyline points="3138,1338 3166,1338" fill="none" stroke="#66665e" stroke-width="4.5" stroke-linecap="butt" stroke-linejoin="miter"/>
<polyline points="3048,1338 3057,1346.5 3075.9,1329.5 3093,1346.5 3111,1329.5 3129,1346.5 3138,1338" fill="none" stroke="#4a4ad2" stroke-width="5.5" stroke-linecap="round" stroke-linejoin="round"/>
<polyline points="3138,1338 3198,1338 3198,1250" fill="none" stroke="#6a6a84" stroke-width="3.9" stroke-linecap="square" stroke-linejoin="miter"/>
<rect x="2752" y="1368" width="148" height="149" fill="#fffca4" stroke="#f4dcae" stroke-width="3"/>
<circle cx="2781" cy="1427" r="8" fill="#fffff4" stroke="#f6d4b0" stroke-width="3"/>
<polyline points="2781,1605 2781,1811" fill="none" stroke="#6a6a84" stroke-width="3.9" stroke-linecap="square" stroke-linejoin="miter"/>
<polyline points="2871,1605 2871,1811" fill="none" stroke="#6a6a84" stroke-width="3.9" stroke-linecap="square" stroke-linejoin="miter"/>
<polyline points="2781,1665 2781,1753" fill="none" stroke="#3c3cf0" stroke-width="5" stroke-linecap="butt" stroke-linejoin="miter"/>
<polygon points="2751,1693 2811,1693 2781,1723" fill="#0000f6"/>
<polyline points="2749,1725 2813,1725" fill="none" stroke="#0000f6" stroke-width="7" stroke-linecap="butt" stroke-linejoin="miter"/>
<polyline points="2871,1665 2871,1753" fill="none" stroke="#3c3cf0" stroke-width="5" stroke-linecap="butt" stroke-linejoin="miter"/>
<polygon points="2841,1693 2901,1693 2871,1723" fill="#0000f6"/>
<polyline points="2839,1725 2903,1725" fill="none" stroke="#0000f6" stroke-width="7" stroke-linecap="butt" stroke-linejoin="miter"/>
<polyline points="3138,835 3138,984" fill="none" stroke="#6a6a84" stroke-width="3.9" stroke-linecap="square" stroke-linejoin="miter"/>
<polyline points="3138,956 3138,984" fill="none" stroke="#66665e" stroke-width="4.5" stroke-linecap="butt" stroke-linejoin="miter"/>
<polyline points="3138,1072 3138,1100" fill="none" stroke="#66665e" stroke-width="4.5" stroke-linecap="butt" stroke-linejoin="miter"/>
<polyline points="3138,984 3129.5,992.8 3146.5,1011.3 3129.5,1029.8 3146.5,1047.4 3129.5,1064.1 3138,1072" fill="none" stroke="#4a4ad2" stroke-width="5.5" stroke-linecap="round" stroke-linejoin="round"/>
<polyline points="3138,838 3138,868" fill="none" stroke="#3c3cf0" stroke-width="5" stroke-linecap="butt" stroke-linejoin="miter"/>
<polyline points="3138,924 3198,924" fill="none" stroke="#6a6a84" stroke-width="3.9" stroke-linecap="square" stroke-linejoin="miter"/>
<polyline points="3170,924 3198,924" fill="none" stroke="#66665e" stroke-width="4.5" stroke-linecap="butt" stroke-linejoin="miter"/>
<polyline points="3288,924 3316,924" fill="none" stroke="#66665e" stroke-width="4.5" stroke-linecap="butt" stroke-linejoin="miter"/>
<polyline points="3198,924 3207,932.5 3225.9,915.5 3243,932.5 3261,915.5 3279,932.5 3288,924" fill="none" stroke="#4a4ad2" stroke-width="5.5" stroke-linecap="round" stroke-linejoin="round"/>
<polyline points="3288,924 3347,924" fill="none" stroke="#6a6a84" stroke-width="3.9" stroke-linecap="square" stroke-linejoin="miter"/>
<polyline points="3169,805 3347,805 3347,1250" fill="none" stroke="#6a6a84" stroke-width="3.9" stroke-linecap="square" stroke-linejoin="miter"/>
<polyline points="3107,805 3049,805 3049,688 4031,688 4031,1753" fill="none" stroke="#6a6a84" stroke-width="3.9" stroke-linecap="square" stroke-linejoin="miter"/>
<polyline points="4031,1725 4031,1753" fill="none" stroke="#66665e" stroke-width="4.5" stroke-linecap="butt" stroke-linejoin="miter"/>
<polyline points="4031,1841 4031,1869" fill="none" stroke="#66665e" stroke-width="4.5" stroke-linecap="butt" stroke-linejoin="miter"/>
<polyline points="4031,1753 4022.5,1761.8 4039.5,1780.3 4022.5,1798.8 4039.5,1816.4 4022.5,1833.1 4031,1841" fill="none" stroke="#4a4ad2" stroke-width="5.5" stroke-linecap="round" stroke-linejoin="round"/>
<polyline points="4031,1841 4031,1901 3943,1901" fill="none" stroke="#6a6a84" stroke-width="3.9" stroke-linecap="square" stroke-linejoin="miter"/>
<polyline points="3107,835 3169,835" fill="none" stroke="#4a4ad2" stroke-width="5.5" stroke-linecap="butt" stroke-linejoin="round"/>
<polyline points="3107,805 3138,835" fill="none" stroke="#4a4ad2" stroke-width="5.5" stroke-linecap="round" stroke-linejoin="round"/>
<polyline points="3138,835 3169,805" fill="none" stroke="#4a4ad2" stroke-width="5.5" stroke-linecap="round" stroke-linejoin="round"/>
<polygon points="3146,828 3149.8,814.5 3159.6,824.6" fill="none" stroke="#4a4ad2" stroke-width="3" stroke-linejoin="round"/>
<polyline points="3525,1190 3525,3263" fill="none" stroke="#6a6a84" stroke-width="3.9" stroke-linecap="square" stroke-linejoin="miter"/>
<polyline points="3525,2463 3525,2551" fill="none" stroke="#3c3cf0" stroke-width="5" stroke-linecap="butt" stroke-linejoin="miter"/>
<polygon points="3495,2522 3555,2522 3525,2493" fill="#0000f6"/>
<polyline points="3493,2492 3557,2492" fill="none" stroke="#0000f6" stroke-width="7" stroke-linecap="butt" stroke-linejoin="miter"/>
<polyline points="3078,1841 3078,1723 3615,1723 3615,1781" fill="none" stroke="#6a6a84" stroke-width="3.9" stroke-linecap="square" stroke-linejoin="miter"/>
<polyline points="3078,1841 3078,1901" fill="none" stroke="#6a6a84" stroke-width="3.9" stroke-linecap="square" stroke-linejoin="miter"/>
<polyline points="3078,1873 3078,1901" fill="none" stroke="#66665e" stroke-width="4.5" stroke-linecap="butt" stroke-linejoin="miter"/>
<polyline points="3078,1989 3078,2017" fill="none" stroke="#66665e" stroke-width="4.5" stroke-linecap="butt" stroke-linejoin="miter"/>
<polyline points="3078,1901 3069.5,1909.8 3086.5,1928.3 3069.5,1946.8 3086.5,1964.4 3069.5,1981.1 3078,1989" fill="none" stroke="#4a4ad2" stroke-width="5.5" stroke-linecap="round" stroke-linejoin="round"/>
<polyline points="3078,1989 3078,2049 3198,2049" fill="none" stroke="#6a6a84" stroke-width="3.9" stroke-linecap="square" stroke-linejoin="miter"/>
<polyline points="3198,1576 3198,1810" fill="none" stroke="#6a6a84" stroke-width="3.9" stroke-linecap="square" stroke-linejoin="miter"/>
<polyline points="3198,1873 3198,2049" fill="none" stroke="#6a6a84" stroke-width="3.9" stroke-linecap="square" stroke-linejoin="miter"/>
<polyline points="3198,2049 3198,2078" fill="none" stroke="#c8665c" stroke-width="4" stroke-linecap="butt" stroke-linejoin="miter"/>
<polyline points="3167,2078 3229,2078" fill="none" stroke="#c8665c" stroke-width="4.2" stroke-linecap="butt" stroke-linejoin="miter"/>
<polyline points="3177,2087.3 3219,2087.3" fill="none" stroke="#c8665c" stroke-width="4.2" stroke-linecap="butt" stroke-linejoin="miter"/>
<polyline points="3186,2096.6 3210,2096.6" fill="none" stroke="#c8665c" stroke-width="4.2" stroke-linecap="butt" stroke-linejoin="miter"/>
<polyline points="3194,2105.9 3202,2105.9" fill="none" stroke="#c8665c" stroke-width="4.2" stroke-linecap="butt" stroke-linejoin="miter"/>
<polyline points="3167,1811 3167,1871" fill="none" stroke="#4a4ad2" stroke-width="5.5" stroke-linecap="butt" stroke-linejoin="round"/>
<polyline points="3167,1833 3198,1810" fill="none" stroke="#4a4ad2" stroke-width="5.5" stroke-linecap="round" stroke-linejoin="round"/>
<polyline points="3167,1850 3198,1873" fill="none" stroke="#4a4ad2" stroke-width="5.5" stroke-linecap="round" stroke-linejoin="round"/>
<polygon points="3198,1873 3184.1,1871.4 3192.4,1860.2" fill="none" stroke="#4a4ad2" stroke-width="3" stroke-linejoin="round"/>
<polyline points="3645,1781 3645,1841" fill="none" stroke="#4a4ad2" stroke-width="5.5" stroke-linecap="butt" stroke-linejoin="round"/>
<polyline points="3615,1781 3645,1802" fill="none" stroke="#4a4ad2" stroke-width="5.5" stroke-linecap="round" stroke-linejoin="round"/>
<polyline points="3645,1821 3615,1841" fill="none" stroke="#4a4ad2" stroke-width="5.5" stroke-linecap="round" stroke-linejoin="round"/>
<polygon points="3615,1841 3621.2,1828.5 3629,1840.1" fill="none" stroke="#4a4ad2" stroke-width="3" stroke-linejoin="round"/>
<polyline points="3645,1811 3913,1811 3913,1871" fill="none" stroke="#6a6a84" stroke-width="3.9" stroke-linecap="square" stroke-linejoin="miter"/>
<polyline points="3615,1841 3615,2020 3913,2020 3913,1932" fill="none" stroke="#6a6a84" stroke-width="3.9" stroke-linecap="square" stroke-linejoin="miter"/>
<polyline points="3615,2020 3615,2048" fill="none" stroke="#c8665c" stroke-width="4" stroke-linecap="butt" stroke-linejoin="miter"/>
<polyline points="3584,2048 3646,2048" fill="none" stroke="#c8665c" stroke-width="4.2" stroke-linecap="butt" stroke-linejoin="miter"/>
<polyline points="3594,2057.3 3636,2057.3" fill="none" stroke="#c8665c" stroke-width="4.2" stroke-linecap="butt" stroke-linejoin="miter"/>
<polyline points="3603,2066.6 3627,2066.6" fill="none" stroke="#c8665c" stroke-width="4.2" stroke-linecap="butt" stroke-linejoin="miter"/>
<polyline points="3611,2075.9 3619,2075.9" fill="none" stroke="#c8665c" stroke-width="4.2" stroke-linecap="butt" stroke-linejoin="miter"/>
<polyline points="3733,1811 3733,1871" fill="none" stroke="#6a6a84" stroke-width="3.9" stroke-linecap="square" stroke-linejoin="miter"/>
<polyline points="3733,1843 3733,1871" fill="none" stroke="#66665e" stroke-width="4.5" stroke-linecap="butt" stroke-linejoin="miter"/>
<polyline points="3733,1961 3733,1989" fill="none" stroke="#66665e" stroke-width="4.5" stroke-linecap="butt" stroke-linejoin="miter"/>
<polyline points="3733,1871 3724.5,1880 3741.5,1898.9 3724.5,1917.8 3741.5,1935.8 3724.5,1952.9 3733,1961" fill="none" stroke="#4a4ad2" stroke-width="5.5" stroke-linecap="round" stroke-linejoin="round"/>
<polyline points="3733,1961 3733,2020" fill="none" stroke="#6a6a84" stroke-width="3.9" stroke-linecap="square" stroke-linejoin="miter"/>
<polyline points="3823,1811 3823,1910" fill="none" stroke="#6a6a84" stroke-width="3.9" stroke-linecap="square" stroke-linejoin="miter"/>
<polyline points="3794.5,1910 3851.5,1910" fill="none" stroke="#4a4ad2" stroke-width="5.5" stroke-linecap="butt" stroke-linejoin="round"/>
<polyline points="3794.5,1922 3851.5,1922" fill="none" stroke="#4a4ad2" stroke-width="5.5" stroke-linecap="butt" stroke-linejoin="round"/>
<polyline points="3823,1922 3823,2020" fill="none" stroke="#6a6a84" stroke-width="3.9" stroke-linecap="square" stroke-linejoin="miter"/>
<polyline points="3943,1871 3943,1931" fill="none" stroke="#4a4ad2" stroke-width="5.5" stroke-linecap="butt" stroke-linejoin="round"/>
<polyline points="3913,1871 3943,1893" fill="none" stroke="#4a4ad2" stroke-width="5.5" stroke-linecap="round" stroke-linejoin="round"/>
<polyline points="3943,1909 3913,1932" fill="none" stroke="#4a4ad2" stroke-width="5.5" stroke-linecap="round" stroke-linejoin="round"/>
<polygon points="3913,1932 3918.4,1919.1 3926.9,1930.2" fill="none" stroke="#4a4ad2" stroke-width="3" stroke-linejoin="round"/>
<polyline points="1205,629 1443,629 1443,984 1512,984" fill="none" stroke="#6a6a84" stroke-width="3.9" stroke-linecap="square" stroke-linejoin="miter"/>
<polyline points="1205,1072 1470,1072 1470,805 1512,805" fill="none" stroke="#6a6a84" stroke-width="3.9" stroke-linecap="square" stroke-linejoin="miter"/>
<polyline points="1205,629 1290,629" fill="none" stroke="#66665e" stroke-width="4.5" stroke-linecap="butt" stroke-linejoin="miter"/>
<polyline points="1205,1072 1290,1072" fill="none" stroke="#66665e" stroke-width="4.5" stroke-linecap="butt" stroke-linejoin="miter"/>
<polyline points="1443,717 1512,717" fill="none" stroke="#6a6a84" stroke-width="3.9" stroke-linecap="square" stroke-linejoin="miter"/>
<polyline points="1470,894 1512,894" fill="none" stroke="#6a6a84" stroke-width="3.9" stroke-linecap="square" stroke-linejoin="miter"/>
<polyline points="1531,805 1650,746" fill="none" stroke="#54549a" stroke-width="5.5" stroke-linecap="square" stroke-linejoin="miter"/>
<polyline points="1531,984 1650,924" fill="none" stroke="#54549a" stroke-width="5.5" stroke-linecap="square" stroke-linejoin="miter"/>
<polyline points="1650,746 1650,629 2036,629 2036,776" fill="none" stroke="#6a6a84" stroke-width="3.9" stroke-linecap="square" stroke-linejoin="miter"/>
<polyline points="1650,924 1650,1072 2036,1072 2036,955" fill="none" stroke="#6a6a84" stroke-width="3.9" stroke-linecap="square" stroke-linejoin="miter"/>
<rect x="1412" y="688" width="298" height="325" fill="none" stroke="#0c0c7a" stroke-width="9.5"/>
<rect x="2006" y="776" width="62" height="36" fill="none" stroke="#5a5ad4" stroke-width="4.2"/>
<rect x="2006" y="921" width="62" height="34" fill="none" stroke="#5a5ad4" stroke-width="4.2"/>
<circle cx="2036" cy="866" r="60" fill="#ffffea" stroke="#5a5ad4" stroke-width="4.6"/>
<circle cx="281" cy="1190" r="6.5" fill="#800000"/>
<circle cx="966" cy="1190" r="6.5" fill="#800000"/>
<circle cx="966" cy="1487" r="6.5" fill="#800000"/>
<circle cx="1561" cy="1487" r="6.5" fill="#800000"/>
<circle cx="1739" cy="1487" r="6.5" fill="#800000"/>
<circle cx="1739" cy="1577" r="6.5" fill="#800000"/>
<circle cx="1889" cy="1694" r="6.5" fill="#800000"/>
<circle cx="1889" cy="1841" r="6.5" fill="#800000"/>
<circle cx="1889" cy="1901" r="6.5" fill="#800000"/>
<circle cx="1889" cy="1961" r="6.5" fill="#800000"/>
<circle cx="1889" cy="2020" r="6.5" fill="#800000"/>
<circle cx="1830" cy="1694" r="6.5" fill="#800000"/>
<circle cx="281" cy="3263" r="6.5" fill="#800000"/>
<circle cx="966" cy="1841" r="6.5" fill="#800000"/>
<circle cx="966" cy="2433" r="6.5" fill="#800000"/>
<circle cx="966" cy="3263" r="6.5" fill="#800000"/>
<circle cx="1025" cy="1961" r="6.5" fill="#800000"/>
<circle cx="1025" cy="2433" r="6.5" fill="#800000"/>
<circle cx="1085" cy="2079" r="6.5" fill="#800000"/>
<circle cx="1085" cy="2433" r="6.5" fill="#800000"/>
<circle cx="1144" cy="2197" r="6.5" fill="#800000"/>
<circle cx="1144" cy="2433" r="6.5" fill="#800000"/>
<circle cx="1204" cy="2316" r="6.5" fill="#800000"/>
<circle cx="1204" cy="2433" r="6.5" fill="#800000"/>
<circle cx="1144" cy="2493" r="6.5" fill="#800000"/>
<circle cx="1054" cy="3263" r="6.5" fill="#800000"/>
<circle cx="1144" cy="3263" r="6.5" fill="#800000"/>
<circle cx="1323" cy="2996" r="6.5" fill="#800000"/>
<circle cx="1323" cy="3263" r="6.5" fill="#800000"/>
<circle cx="1830" cy="3263" r="6.5" fill="#800000"/>
<circle cx="1918" cy="3263" r="6.5" fill="#800000"/>
<circle cx="2007" cy="3263" r="6.5" fill="#800000"/>
<circle cx="2067" cy="2433" r="6.5" fill="#800000"/>
<circle cx="2126" cy="2433" r="6.5" fill="#800000"/>
<circle cx="2275" cy="3263" r="6.5" fill="#800000"/>
<circle cx="2126" cy="2640" r="6.5" fill="#800000"/>
<circle cx="2811" cy="2138" r="6.5" fill="#800000"/>
<circle cx="2959" cy="2138" r="6.5" fill="#800000"/>
<circle cx="3258" cy="3263" r="6.5" fill="#800000"/>
<circle cx="2959" cy="2345" r="6.5" fill="#800000"/>
<circle cx="1948" cy="2256" r="6.5" fill="#800000"/>
<circle cx="3078" cy="1841" r="6.5" fill="#800000"/>
<circle cx="2364" cy="2316" r="6.5" fill="#800000"/>
<circle cx="2662" cy="2316" r="6.5" fill="#800000"/>
<circle cx="2662" cy="2463" r="6.5" fill="#800000"/>
<circle cx="2662" cy="2907" r="6.5" fill="#800000"/>
<circle cx="2245" cy="2670" r="6.5" fill="#800000"/>
<circle cx="2335" cy="2670" r="6.5" fill="#800000"/>
<circle cx="2335" cy="2877" r="6.5" fill="#800000"/>
<circle cx="2484" cy="3263" r="6.5" fill="#800000"/>
<circle cx="2573" cy="3263" r="6.5" fill="#800000"/>
<circle cx="2752" cy="3263" r="6.5" fill="#800000"/>
<circle cx="2067" cy="3263" r="6.5" fill="#800000"/>
<circle cx="2364" cy="1368" r="6.5" fill="#800000"/>
<circle cx="2454" cy="1368" r="6.5" fill="#800000"/>
<circle cx="2781" cy="1605" r="6.5" fill="#800000"/>
<circle cx="2811" cy="1605" r="6.5" fill="#800000"/>
<circle cx="2842" cy="1605" r="6.5" fill="#800000"/>
<circle cx="2871" cy="1605" r="6.5" fill="#800000"/>
<circle cx="2781" cy="1281" r="6.5" fill="#800000"/>
<circle cx="2811" cy="1281" r="6.5" fill="#800000"/>
<circle cx="2185" cy="1516" r="6.5" fill="#800000"/>
<circle cx="2185" cy="1723" r="6.5" fill="#800000"/>
<circle cx="2454" cy="1575" r="6.5" fill="#800000"/>
<circle cx="2990" cy="1338" r="6.5" fill="#800000"/>
<circle cx="3198" cy="1576" r="6.5" fill="#800000"/>
<circle cx="3823" cy="1811" r="6.5" fill="#800000"/>
<circle cx="3198" cy="1250" r="6.5" fill="#800000"/>
<circle cx="2781" cy="1811" r="6.5" fill="#800000"/>
<circle cx="3138" cy="924" r="6.5" fill="#800000"/>
<circle cx="3347" cy="924" r="6.5" fill="#800000"/>
<circle cx="3347" cy="1250" r="6.5" fill="#800000"/>
<circle cx="3525" cy="1190" r="6.5" fill="#800000"/>
<circle cx="3525" cy="3263" r="6.5" fill="#800000"/>
<circle cx="3198" cy="2049" r="6.5" fill="#800000"/>
<circle cx="3733" cy="1811" r="6.5" fill="#800000"/>
<circle cx="3615" cy="2020" r="6.5" fill="#800000"/>
<circle cx="3733" cy="2020" r="6.5" fill="#800000"/>
<circle cx="3823" cy="2020" r="6.5" fill="#800000"/>
<circle cx="1531" cy="717" r="21" fill="#050505"/>
<circle cx="1531" cy="805" r="21" fill="#050505"/>
<circle cx="1531" cy="894" r="21" fill="#050505"/>
<circle cx="1531" cy="984" r="21" fill="#050505"/>
<circle cx="1650" cy="746" r="21" fill="#050505"/>
<circle cx="1650" cy="924" r="21" fill="#050505"/>
<circle cx="1442" cy="717" r="6" fill="#800000"/>
<circle cx="1470" cy="894" r="6" fill="#800000"/>
<text x="163" y="1154.3" font-family='"Liberation Serif", serif' font-size="24" fill="#7272bc" text-anchor="start" font-weight="bold" stroke="#7272bc" stroke-width="0.7">P1</text>
<text x="199" y="1199" font-family='"Liberation Serif", serif' font-size="27" fill="#33332a" text-anchor="middle" font-weight="bold" stroke="#33332a" stroke-width="0.7">1</text>
<text x="275" y="1182" font-family='"Liberation Serif", serif' font-size="27" fill="#505058" text-anchor="middle" font-weight="normal" stroke="#505058" stroke-width="0.7">1</text>
<text x="163" y="1629.3" font-family='"Liberation Serif", serif' font-size="24" fill="#7272bc" text-anchor="start" font-weight="bold" stroke="#7272bc" stroke-width="0.7">P4</text>
<text x="199" y="1674" font-family='"Liberation Serif", serif' font-size="27" fill="#33332a" text-anchor="middle" font-weight="bold" stroke="#33332a" stroke-width="0.7">1</text>
<text x="275" y="1657" font-family='"Liberation Serif", serif' font-size="27" fill="#505058" text-anchor="middle" font-weight="normal" stroke="#505058" stroke-width="0.7">1</text>
<text x="163" y="2043.3" font-family='"Liberation Serif", serif' font-size="24" fill="#7272bc" text-anchor="start" font-weight="bold" stroke="#7272bc" stroke-width="0.7">P5</text>
<text x="199" y="2088" font-family='"Liberation Serif", serif' font-size="27" fill="#33332a" text-anchor="middle" font-weight="bold" stroke="#33332a" stroke-width="0.7">1</text>
<text x="275" y="2071" font-family='"Liberation Serif", serif' font-size="27" fill="#505058" text-anchor="middle" font-weight="normal" stroke="#505058" stroke-width="0.7">1</text>
<text x="163" y="2457.3" font-family='"Liberation Serif", serif' font-size="24" fill="#7272bc" text-anchor="start" font-weight="bold" stroke="#7272bc" stroke-width="0.7">P6</text>
<text x="199" y="2502" font-family='"Liberation Serif", serif' font-size="27" fill="#33332a" text-anchor="middle" font-weight="bold" stroke="#33332a" stroke-width="0.7">1</text>
<text x="275" y="2485" font-family='"Liberation Serif", serif' font-size="27" fill="#505058" text-anchor="middle" font-weight="normal" stroke="#505058" stroke-width="0.7">1</text>
<text x="163" y="2871.3" font-family='"Liberation Serif", serif' font-size="24" fill="#7272bc" text-anchor="start" font-weight="bold" stroke="#7272bc" stroke-width="0.7">P7</text>
<text x="199" y="2916" font-family='"Liberation Serif", serif' font-size="27" fill="#33332a" text-anchor="middle" font-weight="bold" stroke="#33332a" stroke-width="0.7">1</text>
<text x="275" y="2899" font-family='"Liberation Serif", serif' font-size="27" fill="#505058" text-anchor="middle" font-weight="normal" stroke="#505058" stroke-width="0.7">1</text>
<text x="163" y="3227.3" font-family='"Liberation Serif", serif' font-size="24" fill="#7272bc" text-anchor="start" font-weight="bold" stroke="#7272bc" stroke-width="0.7">P8</text>
<text x="199" y="3272" font-family='"Liberation Serif", serif' font-size="27" fill="#33332a" text-anchor="middle" font-weight="bold" stroke="#33332a" stroke-width="0.7">1</text>
<text x="275" y="3255" font-family='"Liberation Serif", serif' font-size="27" fill="#505058" text-anchor="middle" font-weight="normal" stroke="#505058" stroke-width="0.7">1</text>
<text x="3616" y="1154.3" font-family='"Liberation Serif", serif' font-size="24" fill="#7272bc" text-anchor="start" font-weight="bold" stroke="#7272bc" stroke-width="0.7">P2</text>
<text x="3638" y="1199" font-family='"Liberation Serif", serif' font-size="27" fill="#33332a" text-anchor="middle" font-weight="bold" stroke="#33332a" stroke-width="0.7">1</text>
<text x="3566" y="1182" font-family='"Liberation Serif", serif' font-size="27" fill="#505058" text-anchor="middle" font-weight="normal" stroke="#505058" stroke-width="0.7">1</text>
<text x="3616" y="1332.3" font-family='"Liberation Serif", serif' font-size="24" fill="#7272bc" text-anchor="start" font-weight="bold" stroke="#7272bc" stroke-width="0.7">P3</text>
<text x="3638" y="1377" font-family='"Liberation Serif", serif' font-size="27" fill="#33332a" text-anchor="middle" font-weight="bold" stroke="#33332a" stroke-width="0.7">1</text>
<text x="3566" y="1360" font-family='"Liberation Serif", serif' font-size="27" fill="#505058" text-anchor="middle" font-weight="normal" stroke="#505058" stroke-width="0.7">1</text>
<text x="3616" y="3227.3" font-family='"Liberation Serif", serif' font-size="24" fill="#7272bc" text-anchor="start" font-weight="bold" stroke="#7272bc" stroke-width="0.7">P9</text>
<text x="3638" y="3272" font-family='"Liberation Serif", serif' font-size="27" fill="#33332a" text-anchor="middle" font-weight="bold" stroke="#33332a" stroke-width="0.7">1</text>
<text x="3566" y="3255" font-family='"Liberation Serif", serif' font-size="27" fill="#505058" text-anchor="middle" font-weight="normal" stroke="#505058" stroke-width="0.7">1</text>
<text x="1144" y="593.3" font-family='"Liberation Serif", serif' font-size="24" fill="#7272bc" text-anchor="start" font-weight="bold" stroke="#7272bc" stroke-width="0.7">P10</text>
<text x="1180" y="638" font-family='"Liberation Serif", serif' font-size="27" fill="#33332a" text-anchor="middle" font-weight="bold" stroke="#33332a" stroke-width="0.7">1</text>
<text x="1256" y="621" font-family='"Liberation Serif", serif' font-size="27" fill="#505058" text-anchor="middle" font-weight="normal" stroke="#505058" stroke-width="0.7">1</text>
<text x="1144" y="1036.3" font-family='"Liberation Serif", serif' font-size="24" fill="#7272bc" text-anchor="start" font-weight="bold" stroke="#7272bc" stroke-width="0.7">P11</text>
<text x="1180" y="1081" font-family='"Liberation Serif", serif' font-size="27" fill="#33332a" text-anchor="middle" font-weight="bold" stroke="#33332a" stroke-width="0.7">1</text>
<text x="1256" y="1064" font-family='"Liberation Serif", serif' font-size="27" fill="#505058" text-anchor="middle" font-weight="normal" stroke="#505058" stroke-width="0.7">1</text>
<text x="1370" y="1774" font-family='"Liberation Serif", serif' font-size="27" fill="#3c3c3c" text-anchor="end" font-weight="normal" stroke="#3c3c3c" stroke-width="1">1</text>
<text x="1786" y="1774" font-family='"Liberation Serif", serif' font-size="27" fill="#3c3c3c" text-anchor="start" font-weight="normal" stroke="#3c3c3c" stroke-width="1">30</text>
<text x="1370" y="1833.5" font-family='"Liberation Serif", serif' font-size="27" fill="#3c3c3c" text-anchor="end" font-weight="normal" stroke="#3c3c3c" stroke-width="1">2</text>
<text x="1786" y="1833.5" font-family='"Liberation Serif", serif' font-size="27" fill="#3c3c3c" text-anchor="start" font-weight="normal" stroke="#3c3c3c" stroke-width="1">29</text>
<text x="1370" y="1892.9" font-family='"Liberation Serif", serif' font-size="27" fill="#3c3c3c" text-anchor="end" font-weight="normal" stroke="#3c3c3c" stroke-width="1">3</text>
<text x="1786" y="1892.9" font-family='"Liberation Serif", serif' font-size="27" fill="#3c3c3c" text-anchor="start" font-weight="normal" stroke="#3c3c3c" stroke-width="1">28</text>
<text x="1370" y="1952.3" font-family='"Liberation Serif", serif' font-size="27" fill="#3c3c3c" text-anchor="end" font-weight="normal" stroke="#3c3c3c" stroke-width="1">4</text>
<text x="1786" y="1952.3" font-family='"Liberation Serif", serif' font-size="27" fill="#3c3c3c" text-anchor="start" font-weight="normal" stroke="#3c3c3c" stroke-width="1">27</text>
<text x="1370" y="2011.8" font-family='"Liberation Serif", serif' font-size="27" fill="#3c3c3c" text-anchor="end" font-weight="normal" stroke="#3c3c3c" stroke-width="1">5</text>
<text x="1786" y="2011.8" font-family='"Liberation Serif", serif' font-size="27" fill="#3c3c3c" text-anchor="start" font-weight="normal" stroke="#3c3c3c" stroke-width="1">26</text>
<text x="1370" y="2071.2" font-family='"Liberation Serif", serif' font-size="27" fill="#3c3c3c" text-anchor="end" font-weight="normal" stroke="#3c3c3c" stroke-width="1">6</text>
<text x="1786" y="2071.2" font-family='"Liberation Serif", serif' font-size="27" fill="#3c3c3c" text-anchor="start" font-weight="normal" stroke="#3c3c3c" stroke-width="1">25</text>
<text x="1370" y="2130.7" font-family='"Liberation Serif", serif' font-size="27" fill="#3c3c3c" text-anchor="end" font-weight="normal" stroke="#3c3c3c" stroke-width="1">7</text>
<text x="1786" y="2130.7" font-family='"Liberation Serif", serif' font-size="27" fill="#3c3c3c" text-anchor="start" font-weight="normal" stroke="#3c3c3c" stroke-width="1">24</text>
<text x="1370" y="2190.2" font-family='"Liberation Serif", serif' font-size="27" fill="#3c3c3c" text-anchor="end" font-weight="normal" stroke="#3c3c3c" stroke-width="1">8</text>
<text x="1786" y="2190.2" font-family='"Liberation Serif", serif' font-size="27" fill="#3c3c3c" text-anchor="start" font-weight="normal" stroke="#3c3c3c" stroke-width="1">23</text>
<text x="1370" y="2249.6" font-family='"Liberation Serif", serif' font-size="27" fill="#3c3c3c" text-anchor="end" font-weight="normal" stroke="#3c3c3c" stroke-width="1">9</text>
<text x="1786" y="2249.6" font-family='"Liberation Serif", serif' font-size="27" fill="#3c3c3c" text-anchor="start" font-weight="normal" stroke="#3c3c3c" stroke-width="1">22</text>
<text x="1370" y="2309.1" font-family='"Liberation Serif", serif' font-size="27" fill="#3c3c3c" text-anchor="end" font-weight="normal" stroke="#3c3c3c" stroke-width="1">10</text>
<text x="1786" y="2309.1" font-family='"Liberation Serif", serif' font-size="27" fill="#3c3c3c" text-anchor="start" font-weight="normal" stroke="#3c3c3c" stroke-width="1">21</text>
<text x="1370" y="2368.5" font-family='"Liberation Serif", serif' font-size="27" fill="#3c3c3c" text-anchor="end" font-weight="normal" stroke="#3c3c3c" stroke-width="1">11</text>
<text x="1786" y="2368.5" font-family='"Liberation Serif", serif' font-size="27" fill="#3c3c3c" text-anchor="start" font-weight="normal" stroke="#3c3c3c" stroke-width="1">20</text>
<text x="1370" y="2427.9" font-family='"Liberation Serif", serif' font-size="27" fill="#3c3c3c" text-anchor="end" font-weight="normal" stroke="#3c3c3c" stroke-width="1">12</text>
<text x="1786" y="2427.9" font-family='"Liberation Serif", serif' font-size="27" fill="#3c3c3c" text-anchor="start" font-weight="normal" stroke="#3c3c3c" stroke-width="1">19</text>
<text x="1370" y="2487.4" font-family='"Liberation Serif", serif' font-size="27" fill="#3c3c3c" text-anchor="end" font-weight="normal" stroke="#3c3c3c" stroke-width="1">13</text>
<text x="1786" y="2487.4" font-family='"Liberation Serif", serif' font-size="27" fill="#3c3c3c" text-anchor="start" font-weight="normal" stroke="#3c3c3c" stroke-width="1">18</text>
<text x="1370" y="2546.8" font-family='"Liberation Serif", serif' font-size="27" fill="#3c3c3c" text-anchor="end" font-weight="normal" stroke="#3c3c3c" stroke-width="1">14</text>
<text x="1786" y="2546.8" font-family='"Liberation Serif", serif' font-size="27" fill="#3c3c3c" text-anchor="start" font-weight="normal" stroke="#3c3c3c" stroke-width="1">17</text>
<text x="1370" y="2606.3" font-family='"Liberation Serif", serif' font-size="27" fill="#3c3c3c" text-anchor="end" font-weight="normal" stroke="#3c3c3c" stroke-width="1">15</text>
<text x="1786" y="2606.3" font-family='"Liberation Serif", serif' font-size="27" fill="#3c3c3c" text-anchor="start" font-weight="normal" stroke="#3c3c3c" stroke-width="1">16</text>
<text x="1830" y="2130.7" font-family='"Liberation Serif", serif' font-size="27" fill="#5a5a90" text-anchor="start" font-weight="normal" stroke="#5a5a90" stroke-width="1">VM</text>
<text x="1830" y="2190.2" font-family='"Liberation Serif", serif' font-size="27" fill="#5a5a90" text-anchor="start" font-weight="normal" stroke="#5a5a90" stroke-width="1">PRE</text>
<text x="1830" y="2249.6" font-family='"Liberation Serif", serif' font-size="27" fill="#5a5a90" text-anchor="start" font-weight="normal" stroke="#5a5a90" stroke-width="1">CO</text>
<text x="1830" y="2309.1" font-family='"Liberation Serif", serif' font-size="27" fill="#5a5a90" text-anchor="start" font-weight="normal" stroke="#5a5a90" stroke-width="1">DO</text>
<text x="1830" y="2368.5" font-family='"Liberation Serif", serif' font-size="27" fill="#5a5a90" text-anchor="start" font-weight="normal" stroke="#5a5a90" stroke-width="1">ECR</text>
<text x="1830" y="2427.9" font-family='"Liberation Serif", serif' font-size="27" fill="#5a5a90" text-anchor="start" font-weight="normal" stroke="#5a5a90" stroke-width="1">VINI</text>
<text x="1413" y="1744" font-family='"Liberation Serif", serif' font-size="25" fill="#767698" text-anchor="start" font-weight="normal" stroke="#767698" stroke-width="0.8">U1</text>
<text transform="translate(2781,1393) rotate(-90)" font-family='"Liberation Serif", serif' font-size="20" fill="#3c3c34" text-anchor="middle" font-weight="bold" y="7">S</text>
<text transform="translate(2781,1489) rotate(-90)" font-family='"Liberation Serif", serif' font-size="20" fill="#3c3c34" text-anchor="middle" font-weight="bold" y="7">D</text>
<text transform="translate(2767,1317) rotate(-90)" font-family='"Liberation Serif", serif' font-size="20" fill="#44443c" font-weight="bold" text-anchor="middle" y="6">1</text>
<text transform="translate(2767,1570) rotate(-90)" font-family='"Liberation Serif", serif' font-size="20" fill="#44443c" font-weight="bold" text-anchor="middle" y="6">8</text>
<text transform="translate(2811,1393) rotate(-90)" font-family='"Liberation Serif", serif' font-size="20" fill="#3c3c34" text-anchor="middle" font-weight="bold" y="7">S</text>
<text transform="translate(2811,1489) rotate(-90)" font-family='"Liberation Serif", serif' font-size="20" fill="#3c3c34" text-anchor="middle" font-weight="bold" y="7">D</text>
<text transform="translate(2797,1317) rotate(-90)" font-family='"Liberation Serif", serif' font-size="20" fill="#44443c" font-weight="bold" text-anchor="middle" y="6">2</text>
<text transform="translate(2797,1570) rotate(-90)" font-family='"Liberation Serif", serif' font-size="20" fill="#44443c" font-weight="bold" text-anchor="middle" y="6">7</text>
<text transform="translate(2842,1393) rotate(-90)" font-family='"Liberation Serif", serif' font-size="20" fill="#3c3c34" text-anchor="middle" font-weight="bold" y="7">S</text>
<text transform="translate(2842,1489) rotate(-90)" font-family='"Liberation Serif", serif' font-size="20" fill="#3c3c34" text-anchor="middle" font-weight="bold" y="7">D</text>
<text transform="translate(2828,1317) rotate(-90)" font-family='"Liberation Serif", serif' font-size="20" fill="#44443c" font-weight="bold" text-anchor="middle" y="6">3</text>
<text transform="translate(2828,1570) rotate(-90)" font-family='"Liberation Serif", serif' font-size="20" fill="#44443c" font-weight="bold" text-anchor="middle" y="6">6</text>
<text transform="translate(2871,1393) rotate(-90)" font-family='"Liberation Serif", serif' font-size="20" fill="#3c3c34" text-anchor="middle" font-weight="bold" y="7">G</text>
<text transform="translate(2871,1489) rotate(-90)" font-family='"Liberation Serif", serif' font-size="20" fill="#3c3c34" text-anchor="middle" font-weight="bold" y="7">D</text>
<text transform="translate(2857,1317) rotate(-90)" font-family='"Liberation Serif", serif' font-size="20" fill="#44443c" font-weight="bold" text-anchor="middle" y="6">4</text>
<text transform="translate(2857,1570) rotate(-90)" font-family='"Liberation Serif", serif' font-size="20" fill="#44443c" font-weight="bold" text-anchor="middle" y="6">5</text>
<text x="2020" y="859" font-family='"Liberation Serif", serif' font-size="25" fill="#5e5e88" text-anchor="middle" font-weight="bold" stroke="#5e5e88" stroke-width="0.7">M</text>
<text x="2098" y="796" font-family='"Liberation Serif", serif' font-size="25" fill="#767698" text-anchor="start" font-weight="normal" stroke="#767698" stroke-width="0.8">M1</text>
<text x="371" y="1233" font-family='"Liberation Serif", serif' font-size="25" fill="#5e5e88" text-anchor="start" font-weight="normal" stroke="#5e5e88" stroke-width="1.1">R1</text>
<text x="371" y="1648" font-family='"Liberation Serif", serif' font-size="25" fill="#5e5e88" text-anchor="start" font-weight="normal" stroke="#5e5e88" stroke-width="1.1">R2</text>
<text x="371" y="2062" font-family='"Liberation Serif", serif' font-size="25" fill="#5e5e88" text-anchor="start" font-weight="normal" stroke="#5e5e88" stroke-width="1.1">R3</text>
<text x="371" y="2476" font-family='"Liberation Serif", serif' font-size="25" fill="#5e5e88" text-anchor="start" font-weight="normal" stroke="#5e5e88" stroke-width="1.1">R4</text>
<text x="371" y="2891" font-family='"Liberation Serif", serif' font-size="25" fill="#5e5e88" text-anchor="start" font-weight="normal" stroke="#5e5e88" stroke-width="1.1">R5</text>
<text x="976" y="1332" font-family='"Liberation Serif", serif' font-size="25" fill="#5e5e88" text-anchor="start" font-weight="normal" stroke="#5e5e88" stroke-width="1.1">R35</text>
<text x="998" y="1534" font-family='"Liberation Serif", serif' font-size="25" fill="#5e5e88" text-anchor="start" font-weight="normal" stroke="#5e5e88" stroke-width="1.1">C1</text>
<text x="1111" y="1450" font-family='"Liberation Serif", serif' font-size="25" fill="#767698" text-anchor="start" font-weight="normal" stroke="#767698" stroke-width="0.8">D5</text>
<text x="1413" y="1471" font-family='"Liberation Serif", serif' font-size="25" fill="#5e5e88" text-anchor="start" font-weight="normal" stroke="#5e5e88" stroke-width="1.1">R6</text>
<text x="1592" y="1534" font-family='"Liberation Serif", serif' font-size="25" fill="#5e5e88" text-anchor="start" font-weight="normal" stroke="#5e5e88" stroke-width="1.1">C2</text>
<text x="1770" y="1537" font-family='"Liberation Serif", serif' font-size="25" fill="#5e5e88" text-anchor="start" font-weight="normal" stroke="#5e5e88" stroke-width="1.1">C3</text>
<text x="998" y="1888" font-family='"Liberation Serif", serif' font-size="25" fill="#5e5e88" text-anchor="start" font-weight="normal" stroke="#5e5e88" stroke-width="1.1">C4</text>
<text x="1056" y="2006" font-family='"Liberation Serif", serif' font-size="25" fill="#5e5e88" text-anchor="start" font-weight="normal" stroke="#5e5e88" stroke-width="1.1">C5</text>
<text x="1116" y="2126" font-family='"Liberation Serif", serif' font-size="25" fill="#5e5e88" text-anchor="start" font-weight="normal" stroke="#5e5e88" stroke-width="1.1">C6</text>
<text x="1175" y="2244" font-family='"Liberation Serif", serif' font-size="25" fill="#5e5e88" text-anchor="start" font-weight="normal" stroke="#5e5e88" stroke-width="1.1">C7</text>
<text x="1235" y="2362" font-family='"Liberation Serif", serif' font-size="25" fill="#5e5e88" text-anchor="start" font-weight="normal" stroke="#5e5e88" stroke-width="1.1">C8</text>
<text x="1959" y="1511" font-family='"Liberation Serif", serif' font-size="25" fill="#5e5e88" text-anchor="start" font-weight="normal" stroke="#5e5e88" stroke-width="1.1">R10</text>
<text x="2197" y="1393" font-family='"Liberation Serif", serif' font-size="25" fill="#5e5e88" text-anchor="start" font-weight="normal" stroke="#5e5e88" stroke-width="1.1">R11</text>
<text x="2375" y="1449" font-family='"Liberation Serif", serif' font-size="25" fill="#5e5e88" text-anchor="start" font-weight="normal" stroke="#5e5e88" stroke-width="1.1">R12</text>
<text x="2316" y="1599" font-family='"Liberation Serif", serif' font-size="25" fill="#5e5e88" text-anchor="start" font-weight="normal" stroke="#5e5e88" stroke-width="1.1">R13</text>
<text x="2463" y="1658" font-family='"Liberation Serif", serif' font-size="25" fill="#5e5e88" text-anchor="start" font-weight="normal" stroke="#5e5e88" stroke-width="1.1">R14</text>
<text x="2239" y="1596" font-family='"Liberation Serif", serif' font-size="25" fill="#767698" text-anchor="start" font-weight="normal" stroke="#767698" stroke-width="0.8">D6</text>
<text x="2508" y="1448" font-family='"Liberation Serif", serif' font-size="25" fill="#767698" text-anchor="start" font-weight="normal" stroke="#767698" stroke-width="0.8">D7</text>
<text x="2105" y="1628" font-family='"Liberation Serif", serif' font-size="25" fill="#767698" text-anchor="start" font-weight="normal" stroke="#767698" stroke-width="0.8">Q1</text>
<text x="2901" y="1392" font-family='"Liberation Serif", serif' font-size="25" fill="#767698" text-anchor="start" font-weight="normal" stroke="#767698" stroke-width="0.8">U2</text>
<text x="2998" y="1422" font-family='"Liberation Serif", serif' font-size="25" fill="#5e5e88" text-anchor="start" font-weight="normal" stroke="#5e5e88" stroke-width="1.1">R16</text>
<text x="3050" y="1324" font-family='"Liberation Serif", serif' font-size="25" fill="#5e5e88" text-anchor="start" font-weight="normal" stroke="#5e5e88" stroke-width="1.1">R37</text>
<text x="2694" y="1685" font-family='"Liberation Serif", serif' font-size="25" fill="#767698" text-anchor="start" font-weight="normal" stroke="#767698" stroke-width="0.8">D4</text>
<text x="2901" y="1685" font-family='"Liberation Serif", serif' font-size="25" fill="#767698" text-anchor="start" font-weight="normal" stroke="#767698" stroke-width="0.8">D2</text>
<text x="2931" y="1827" font-family='"Liberation Serif", serif' font-size="25" fill="#5e5e88" text-anchor="start" font-weight="normal" stroke="#5e5e88" stroke-width="1.1">R15</text>
<text x="3106" y="767" font-family='"Liberation Serif", serif' font-size="25" fill="#767698" text-anchor="start" font-weight="normal" stroke="#767698" stroke-width="0.8">Q4</text>
<text x="3198" y="908" font-family='"Liberation Serif", serif' font-size="25" fill="#5e5e88" text-anchor="start" font-weight="normal" stroke="#5e5e88" stroke-width="1.1">R29</text>
<text x="3148" y="1006" font-family='"Liberation Serif", serif' font-size="25" fill="#5e5e88" text-anchor="start" font-weight="normal" stroke="#5e5e88" stroke-width="1.1">R27</text>
<text x="3406" y="1559" font-family='"Liberation Serif", serif' font-size="25" fill="#5e5e88" text-anchor="start" font-weight="normal" stroke="#5e5e88" stroke-width="1.1">R34</text>
<text x="3201" y="1833" font-family='"Liberation Serif", serif' font-size="25" fill="#767698" text-anchor="start" font-weight="normal" stroke="#767698" stroke-width="0.8">Q3</text>
<text x="3090" y="1924" font-family='"Liberation Serif", serif' font-size="25" fill="#5e5e88" text-anchor="start" font-weight="normal" stroke="#5e5e88" stroke-width="1.1">R22</text>
<text x="3676" y="1773" font-family='"Liberation Serif", serif' font-size="25" fill="#767698" text-anchor="start" font-weight="normal" stroke="#767698" stroke-width="0.8">Q8</text>
<text x="3743" y="1892" font-family='"Liberation Serif", serif' font-size="25" fill="#5e5e88" text-anchor="start" font-weight="normal" stroke="#5e5e88" stroke-width="1.1">R38</text>
<text x="3853" y="1921" font-family='"Liberation Serif", serif' font-size="25" fill="#5e5e88" text-anchor="start" font-weight="normal" stroke="#5e5e88" stroke-width="1.1">C16</text>
<text x="3974" y="1861" font-family='"Liberation Serif", serif' font-size="25" fill="#767698" text-anchor="start" font-weight="normal" stroke="#767698" stroke-width="0.8">Q9</text>
<text x="4040" y="1775" font-family='"Liberation Serif", serif' font-size="25" fill="#5e5e88" text-anchor="start" font-weight="normal" stroke="#5e5e88" stroke-width="1.1">R39</text>
<text x="3049" y="2123" font-family='"Liberation Serif", serif' font-size="25" fill="#5e5e88" text-anchor="start" font-weight="normal" stroke="#5e5e88" stroke-width="1.1">R19</text>
<text x="2842" y="2245" font-family='"Liberation Serif", serif' font-size="25" fill="#5e5e88" text-anchor="start" font-weight="normal" stroke="#5e5e88" stroke-width="1.1">C14</text>
<text x="2970" y="2217" font-family='"Liberation Serif", serif' font-size="25" fill="#5e5e88" text-anchor="start" font-weight="normal" stroke="#5e5e88" stroke-width="1.1">R24</text>
<text x="2422" y="2160" font-family='"Liberation Serif", serif' font-size="25" fill="#767698" text-anchor="start" font-weight="normal" stroke="#767698" stroke-width="0.8">D3</text>
<text x="2426" y="2301" font-family='"Liberation Serif", serif' font-size="25" fill="#5e5e88" text-anchor="start" font-weight="normal" stroke="#5e5e88" stroke-width="1.1">R21</text>
<text x="2515" y="2448" font-family='"Liberation Serif", serif' font-size="25" fill="#5e5e88" text-anchor="start" font-weight="normal" stroke="#5e5e88" stroke-width="1.1">R36</text>
<text x="2003" y="2484" font-family='"Liberation Serif", serif' font-size="25" fill="#5e5e88" text-anchor="start" font-weight="normal" stroke="#5e5e88" stroke-width="1.1">C13</text>
<text x="2137" y="2514" font-family='"Liberation Serif", serif' font-size="25" fill="#5e5e88" text-anchor="start" font-weight="normal" stroke="#5e5e88" stroke-width="1.1">R25</text>
<text x="2256" y="2543" font-family='"Liberation Serif", serif' font-size="25" fill="#5e5e88" text-anchor="start" font-weight="normal" stroke="#5e5e88" stroke-width="1.1">R26</text>
<text x="2256" y="2753" font-family='"Liberation Serif", serif' font-size="25" fill="#5e5e88" text-anchor="start" font-weight="normal" stroke="#5e5e88" stroke-width="1.1">R28</text>
<text x="2362" y="2602" font-family='"Liberation Serif", serif' font-size="25" fill="#767698" text-anchor="start" font-weight="normal" stroke="#767698" stroke-width="0.8">Q5</text>
<text x="2362" y="2810" font-family='"Liberation Serif", serif' font-size="25" fill="#5e5e88" text-anchor="start" font-weight="normal" stroke="#5e5e88" stroke-width="1.1">C15</text>
<text x="2283" y="3075" font-family='"Liberation Serif", serif' font-size="25" fill="#5e5e88" text-anchor="start" font-weight="normal" stroke="#5e5e88" stroke-width="1.1">R30</text>
<text x="2493" y="3136" font-family='"Liberation Serif", serif' font-size="25" fill="#5e5e88" text-anchor="start" font-weight="normal" stroke="#5e5e88" stroke-width="1.1">R33</text>
<text x="2633" y="3086" font-family='"Liberation Serif", serif' font-size="25" fill="#767698" text-anchor="start" font-weight="normal" stroke="#767698" stroke-width="0.8">Q6</text>
<text x="2633" y="3322" font-family='"Liberation Serif", serif' font-size="25" fill="#767698" text-anchor="start" font-weight="normal" stroke="#767698" stroke-width="0.8">Q7</text>
<text x="2067" y="3334" font-family='"Liberation Serif", serif' font-size="25" fill="#5e5e88" text-anchor="start" font-weight="normal" stroke="#5e5e88" stroke-width="1.1">R32</text>
<text x="1084" y="2834" font-family='"Liberation Serif", serif' font-size="25" fill="#5e5e88" text-anchor="start" font-weight="normal" stroke="#5e5e88" stroke-width="1.1">C9</text>
<text x="1145" y="2853" font-family='"Liberation Serif", serif' font-size="25" fill="#5e5e88" text-anchor="start" font-weight="normal" stroke="#5e5e88" stroke-width="1.1">S1</text>
<text x="1154" y="2634" font-family='"Liberation Serif", serif' font-size="25" fill="#5e5e88" text-anchor="start" font-weight="normal" stroke="#5e5e88" stroke-width="1.1">R23</text>
<text x="1212" y="2870" font-family='"Liberation Serif", serif' font-size="25" fill="#5e5e88" text-anchor="start" font-weight="normal" stroke="#5e5e88" stroke-width="1.1">R7</text>
<text x="1330" y="2870" font-family='"Liberation Serif", serif' font-size="25" fill="#5e5e88" text-anchor="start" font-weight="normal" stroke="#5e5e88" stroke-width="1.1">R8</text>
<text x="1344" y="3075" font-family='"Liberation Serif", serif' font-size="25" fill="#5e5e88" text-anchor="start" font-weight="normal" stroke="#5e5e88" stroke-width="1.1">R9</text>
<text x="1766" y="2898" font-family='"Liberation Serif", serif' font-size="25" fill="#5e5e88" text-anchor="start" font-weight="normal" stroke="#5e5e88" stroke-width="1.1">C10</text>
<text x="1857" y="2895" font-family='"Liberation Serif", serif' font-size="25" fill="#5e5e88" text-anchor="start" font-weight="normal" stroke="#5e5e88" stroke-width="1.1">C11</text>
<text x="1946" y="2892" font-family='"Liberation Serif", serif' font-size="25" fill="#5e5e88" text-anchor="start" font-weight="normal" stroke="#5e5e88" stroke-width="1.1">C12</text>
<text x="3554" y="2482" font-family='"Liberation Serif", serif' font-size="25" fill="#767698" text-anchor="start" font-weight="normal" stroke="#767698" stroke-width="0.8">D1</text>
<text x="2604" y="1806" font-family='"Liberation Serif", serif' font-size="25" fill="#cc6658" text-anchor="start" font-weight="normal" stroke="#cc6658" stroke-width="0.7">P+</text>
<text x="3464" y="1183" font-family='"Liberation Serif", serif' font-size="25" fill="#cc6658" text-anchor="start" font-weight="normal" stroke="#cc6658" stroke-width="0.7">P+</text>
<text x="3464" y="1359" font-family='"Liberation Serif", serif' font-size="25" fill="#cc6658" text-anchor="start" font-weight="normal" stroke="#cc6658" stroke-width="0.7">C+</text>
<text x="2336" y="2456" font-family='"Liberation Serif", serif' font-size="25" fill="#cc6658" text-anchor="start" font-weight="normal" stroke="#cc6658" stroke-width="0.7">P-</text>
<text x="3436" y="3255" font-family='"Liberation Serif", serif' font-size="25" fill="#cc6658" text-anchor="start" font-weight="normal" stroke="#cc6658" stroke-width="0.7">P-</text>
</g>
<rect x="47" y="3920.2" width="4167" height="2.3" fill="#222"/>
<rect x="119" y="3982.5" width="590.5" height="165.5" fill="#838383"/>
<g transform="translate(140,3990) scale(0.08282)"><polygon points="910,275 1545,912 910,1548 273,912" fill="#fff" stroke="#fff" stroke-width="24" stroke-linejoin="round"/><path d="M150,595 L1010,595 C1100,595 1175,680 1175,790 C1175,850 1150,890 1110,912 C1150,935 1175,975 1175,1035 C1175,1145 1100,1228 1010,1228 L150,1228 Z" fill="#838383"/><path d="M305,745 L930,745 A50,50 0 0 1 930,845 L245,845 Q262,800 305,745 Z" fill="#fff"/><path d="M245,980 L930,980 A49,49 0 0 1 930,1078 L305,1078 Q265,1030 245,980 Z" fill="#fff"/></g>
<text x="291" y="4100.5" font-family='"Liberation Sans", sans-serif' font-weight="bold" font-size="102" fill="#fff" stroke="#fff" stroke-width="2.5" textLength="378" lengthAdjust="spacingAndGlyphs">ЗУБР</text>
<text x="821" y="4111" font-family='"Liberation Sans", sans-serif' font-size="110" fill="#0a0a0a" textLength="579" lengthAdjust="spacingAndGlyphs">ДШЛ-141 К.</text>
<text x="1427" y="4111" font-family='"Liberation Sans", sans-serif' font-size="80" fill="#111" stroke="#fff" stroke-width="1.6" paint-order="fill stroke" textLength="1157" lengthAdjust="spacingAndGlyphs">Схема 1 - 2 (Общая электросхема)</text>
<text x="4115" y="3879" font-family='"Liberation Sans", sans-serif' font-size="43" fill="#7d7d7d" text-anchor="end" textLength="279" lengthAdjust="spacingAndGlyphs">17.01.2019 · G1</text>
</svg>
</body></html>
